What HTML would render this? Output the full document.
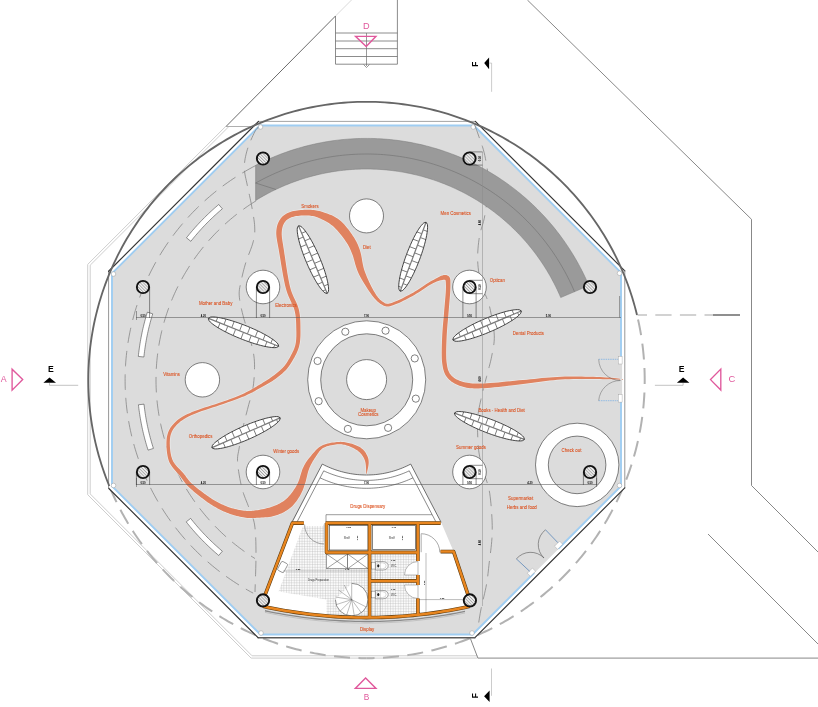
<!DOCTYPE html>
<html><head><meta charset="utf-8"><style>
html,body{margin:0;padding:0;background:#fff;overflow:hidden}
svg{display:block;font-family:"Liberation Sans",sans-serif}
svg{will-change:transform}
</style></head><body>
<svg width="818" height="707" viewBox="0 0 818 707">
<g fill="none" stroke="#c8c8c8" stroke-width="0.9">
<path d="M225.5,126.6 L87.7,264.4 L87.7,494.7 L251.1,658.1 L477.5,658.1"/>
<path d="M228.8,126.6 L90.2,265.2 L90.2,493.9 L252.1,655.8 L477.5,655.8"/>
</g>
<path d="M226,126.5 L335.5,16" stroke="#6b6b6b" stroke-width="1" fill="none"/>
<path d="M335.5,16 L351.5,0" stroke="#d0d0d0" stroke-width="0.8" fill="none"/>
<path d="M226,126.5 L260,126.5" stroke="#9a9a9a" stroke-width="0.8" fill="none"/>
<g stroke="#6e6e6e" stroke-width="0.8" fill="none">
<path d="M335.5,16 V64.2 H397.4 V0"/>
<path d="M335.5,33 H397.4"/>
<path d="M335.5,41 H397.4"/>
<path d="M335.5,48.7 H397.4"/>
<path d="M335.5,56.5 H397.4"/>
<path d="M366.5,33 V66 M363.5,64.5 L366.5,67.5 L369.5,64.5" stroke-width="0.7"/>
</g>
<g stroke="#7a7a7a" stroke-width="0.9" fill="none">
<path d="M527.4,0 L751.5,219.3 L751.5,485.5 L818,552"/>
<path d="M708,534 L818,644"/>
<path d="M470.4,638.5 L477.9,658.1 L818,658.1"/>
</g>
<path d="M366.5,658.2 L363.76,658.19 L361.03,658.15 L358.3,658.08 L355.56,657.98 L352.83,657.86 L350.1,657.72 L347.37,657.54 L344.64,657.34 L341.91,657.11 L339.19,656.86 L336.47,656.57 L333.75,656.27 L331.04,655.93 L328.33,655.57 L325.62,655.18 L322.91,654.76 L320.21,654.32 L317.52,653.85 L314.83,653.36 L312.14,652.84 L309.46,652.29 L306.79,651.72 L304.12,651.12 L301.46,650.49 L298.8,649.84 L296.15,649.16 L293.51,648.45 L290.87,647.72 L288.24,646.97 L285.62,646.18 L283.01,645.38 L280.4,644.54 L277.81,643.68 L275.22,642.8 L272.64,641.89 L270.07,640.95 L267.51,639.99 L264.96,639.01 L262.42,638 L259.88,636.96 L257.36,635.9 L254.85,634.81 L252.35,633.7 L249.86,632.57 L247.38,631.41 L244.92,630.23 L242.46,629.02 L240.02,627.79 L237.59,626.53 L235.17,625.25 L232.77,623.95 L230.38,622.62 L228,621.27 L225.63,619.9 L223.28,618.5 L220.94,617.08 L218.62,615.64 L216.31,614.17 L214.01,612.69 L211.73,611.18 L209.47,609.64 L207.22,608.09 L204.98,606.51 L202.76,604.91 L200.56,603.29 L198.37,601.65 L196.2,599.98 L194.05,598.3 L191.91,596.59 L189.79,594.87 L187.68,593.12 L185.6,591.35 L183.53,589.56 L181.47,587.75 L179.44,585.92 L177.43,584.07 L175.43,582.2 L173.45,580.32 L171.49,578.41 L169.55,576.48 L167.62,574.54 L165.72,572.57 L163.84,570.59 L161.97,568.58 L160.13,566.56 L158.31,564.53 L156.5,562.47 L154.72,560.4 L152.95,558.31 L151.21,556.2 L149.49,554.07 L147.79,551.93 L146.11,549.77 L144.45,547.6 L142.81,545.41 L141.2,543.2 L139.6,540.97 L138.03,538.74 L136.48,536.48 L134.95,534.21 L133.45,531.93 L131.97,529.63 L130.51,527.32 L129.07,524.99 L127.66,522.65 L126.26,520.29 L124.9,517.92 L123.55,515.54 L122.23,513.15 L120.93,510.74 L119.66,508.32 L118.41,505.88 L117.18,503.44 L115.98,500.98 L114.81,498.51 L113.65,496.03 L112.52,493.54 L111.42,491.04 L110.34,488.52 L109.29,486" fill="none" stroke="#b2b2b2" stroke-width="2" stroke-dasharray="16 8.5" stroke-dashoffset="8"/>
<path d="M366.5,658.2 L369.29,658.19 L372.08,658.14 L374.88,658.07 L377.67,657.98 L380.46,657.85 L383.24,657.7 L386.03,657.51 L388.81,657.3 L391.6,657.07 L394.38,656.8 L397.15,656.51 L399.93,656.18 L402.7,655.84 L405.46,655.46 L408.23,655.05 L410.98,654.62 L413.74,654.16 L416.49,653.67 L419.23,653.16 L421.97,652.61 L424.7,652.04 L427.43,651.45 L430.15,650.82 L432.87,650.17 L435.58,649.49 L438.28,648.78 L440.97,648.05 L443.66,647.29 L446.34,646.5 L449.01,645.68 L451.67,644.84 L454.32,643.97 L456.97,643.08 L459.6,642.16 L462.23,641.21 L464.85,640.24 L467.45,639.24 L470.05,638.21 L472.64,637.16 L475.21,636.08 L477.78,634.98 L480.33,633.85 L482.87,632.69 L485.4,631.51 L487.92,630.3 L490.43,629.07 L492.92,627.82 L495.4,626.53 L497.87,625.23 L500.32,623.9 L502.77,622.54 L505.19,621.16 L507.61,619.76 L510.01,618.33 L512.39,616.88 L514.76,615.4 L517.12,613.9 L519.46,612.38 L521.78,610.83 L524.09,609.26 L526.38,607.67 L528.66,606.05 L530.92,604.41 L533.16,602.75 L535.39,601.07 L537.6,599.36 L539.8,597.63 L541.97,595.88 L544.13,594.11 L546.27,592.32 L548.39,590.5 L550.49,588.67 L552.58,586.81 L554.65,584.93 L556.69,583.03 L558.72,581.11 L560.73,579.17 L562.72,577.21 L564.69,575.23 L566.64,573.24 L568.57,571.22 L570.48,569.18 L572.36,567.12 L574.23,565.05 L576.08,562.95 L577.9,560.84 L579.71,558.71 L581.49,556.56 L583.25,554.39 L584.99,552.21 L586.71,550.01 L588.41,547.79 L590.08,545.55 L591.73,543.3 L593.36,541.03 L594.96,538.75 L596.54,536.45 L598.1,534.13 L599.64,531.8 L601.15,529.45 L602.64,527.09 L604.1,524.71 L605.54,522.32 L606.96,519.91 L608.35,517.49 L609.72,515.06 L611.06,512.61 L612.38,510.15 L613.67,507.67 L614.94,505.19 L616.19,502.69 L617.41,500.17 L618.6,497.65 L619.77,495.11 L620.91,492.57 L622.03,490.01 L623.12,487.44 L624.18,484.86 L625.22,482.26 L626.24,479.66 L627.22,477.05 L628.18,474.43 L629.12,471.8 L630.03,469.16 L630.91,466.51 L631.76,463.85 L632.59,461.18 L633.39,458.51 L634.17,455.83 L634.91,453.14 L635.64,450.44 L636.33,447.73 L636.99,445.02 L637.63,442.3 L638.25,439.58 L638.83,436.85 L639.39,434.11 L639.92,431.37 L640.42,428.62 L640.89,425.87 L641.34,423.12 L641.76,420.36 L642.15,417.59 L642.51,414.82 L642.85,412.05 L643.16,409.28 L643.44,406.5 L643.69,403.72 L643.91,400.93 L644.11,398.15 L644.28,395.36 L644.42,392.57 L644.53,389.78 L644.61,386.99 L644.67,384.2 L644.7,381.41 L644.7,378.61 L644.67,375.82 L644.61,373.03 L644.53,370.24 L644.42,367.45 L644.28,364.66 L644.11,361.87 L643.91,359.09 L643.69,356.31 L643.44,353.52 L643.16,350.75 L642.85,347.97 L642.51,345.2 L642.15,342.43 L641.76,339.67 L641.34,336.91 L640.9,334.15 L640.42,331.4 L639.92,328.65 L639.39,325.91 L638.83,323.17 L638.25,320.44 L637.64,317.72 L637,315" fill="none" stroke="#b2b2b2" stroke-width="2" stroke-dasharray="16 8.5" stroke-dashoffset="8"/>
<path d="M637.5,315 L713,315" stroke="#c4c4c4" stroke-width="1.6" stroke-dasharray="16.3 8.3" stroke-dashoffset="6.8" fill="none"/>
<path d="M713,315 L740,315" stroke="#6a6a6a" stroke-width="1.5" fill="none"/>
<path d="M258.48,121.4 L475.32,121.4 L624.8,270.88 L624.8,487.82 L474.92,637.7 L258.08,637.7 L108.6,488.22 L108.6,271.28Z" fill="#ffffff" stroke="none"/>
<path d="M258.48,121.4 L475.32,121.4" stroke="#9a9a9a" stroke-width="0.9" stroke-linecap="round"/>
<path d="M475.32,121.4 L624.8,270.88" stroke="#333" stroke-width="1.15" stroke-linecap="round"/>
<path d="M624.8,270.88 L624.8,487.82" stroke="#8a8a8a" stroke-width="0.9" stroke-linecap="round"/>
<path d="M624.8,487.82 L474.92,637.7" stroke="#333" stroke-width="1.15" stroke-linecap="round"/>
<path d="M474.92,637.7 L258.08,637.7" stroke="#5a5a5a" stroke-width="1.4" stroke-linecap="round"/>
<path d="M258.08,637.7 L108.6,488.22" stroke="#333" stroke-width="1.15" stroke-linecap="round"/>
<path d="M108.6,488.22 L108.6,271.28" stroke="#8a8a8a" stroke-width="0.9" stroke-linecap="round"/>
<path d="M108.6,271.28 L258.48,121.4" stroke="#333" stroke-width="1.15" stroke-linecap="round"/>
<path d="M259.9,125.5 L473.9,125.5 L621,272.6 L621,486.1 L472.6,634.5 L260.4,634.5 L112,486.1 L112,273.4Z" fill="#dcdcdc" stroke="#9fcdf2" stroke-width="1.9"/>
<circle cx="260.52" cy="126.98" r="2.3" fill="#fff" stroke="#9a9a9a" stroke-width="0.5"/>
<circle cx="473.28" cy="126.97" r="2.3" fill="#fff" stroke="#9a9a9a" stroke-width="0.5"/>
<circle cx="619.53" cy="273.22" r="2.3" fill="#fff" stroke="#9a9a9a" stroke-width="0.5"/>
<circle cx="619.52" cy="485.48" r="2.3" fill="#fff" stroke="#9a9a9a" stroke-width="0.5"/>
<circle cx="471.98" cy="633.02" r="2.3" fill="#fff" stroke="#9a9a9a" stroke-width="0.5"/>
<circle cx="261.02" cy="633.02" r="2.3" fill="#fff" stroke="#9a9a9a" stroke-width="0.5"/>
<circle cx="113.48" cy="485.48" r="2.3" fill="#fff" stroke="#9a9a9a" stroke-width="0.5"/>
<circle cx="113.48" cy="274.02" r="2.3" fill="#fff" stroke="#9a9a9a" stroke-width="0.5"/>
<path d="M637,315 L635.89,310.55 L634.71,306.12 L633.46,301.71 L632.13,297.32 L630.73,292.95 L629.26,288.61 L627.72,284.29 L626.11,280 L624.42,275.73 L622.67,271.5 L620.84,267.29 L618.95,263.11 L616.99,258.97 L614.96,254.85 L612.87,250.77 L610.7,246.73 L608.47,242.72 L606.18,238.76 L603.82,234.82 L601.39,230.93 L598.9,227.08 L596.35,223.27 L593.74,219.5 L591.06,215.78 L588.32,212.1 L585.52,208.47 L582.67,204.88 L579.75,201.34 L576.78,197.85 L573.75,194.41 L570.66,191.02 L567.52,187.68 L564.32,184.39 L561.07,181.16 L557.77,177.98 L554.41,174.85 L551,171.78 L547.55,168.77 L544.04,165.82 L540.48,162.92 L536.88,160.08 L533.24,157.3 L529.54,154.58 L525.8,151.93 L522.02,149.33 L518.2,146.8 L514.34,144.33 L510.43,141.93 L506.49,139.59 L502.51,137.31 L498.49,135.1 L494.43,132.96 L490.34,130.89 L486.22,128.88 L482.07,126.94 L477.88,125.07 L473.66,123.27 L469.42,121.54 L465.14,119.87 L460.84,118.28 L456.51,116.76 L452.16,115.32 L447.79,113.94 L443.39,112.64 L438.97,111.41 L434.54,110.25 L430.08,109.16 L425.61,108.15 L421.12,107.21 L416.62,106.35 L412.1,105.56 L407.57,104.85 L403.03,104.21 L398.48,103.64 L393.92,103.15 L389.35,102.74 L384.78,102.4 L380.2,102.14 L375.62,101.95 L371.04,101.84 L366.45,101.8 L361.86,101.84 L357.28,101.95 L352.7,102.14 L348.12,102.41 L343.55,102.75 L338.98,103.16 L334.42,103.66 L329.87,104.22 L325.33,104.86 L320.8,105.58 L316.28,106.37 L311.78,107.23 L307.29,108.17 L302.82,109.19 L298.37,110.27 L293.93,111.43 L289.51,112.66 L285.12,113.97 L280.74,115.35 L276.39,116.8 L272.07,118.32 L267.77,119.91 L263.49,121.57 L259.25,123.31 L255.03,125.11 L250.84,126.98 L246.69,128.92 L242.57,130.93 L238.48,133.01 L234.42,135.15 L230.41,137.36 L226.43,139.64 L222.48,141.98 L218.58,144.38 L214.72,146.85 L210.89,149.39 L207.11,151.98 L203.38,154.64 L199.69,157.36 L196.04,160.14 L192.44,162.98 L188.88,165.88 L185.38,168.84 L181.92,171.85 L178.52,174.92 L175.16,178.05 L171.86,181.23 L168.61,184.46 L165.41,187.75 L162.27,191.09 L159.19,194.48 L156.16,197.93 L153.18,201.42 L150.27,204.96 L147.41,208.55 L144.62,212.18 L141.88,215.86 L139.21,219.58 L136.59,223.35 L134.04,227.16 L131.56,231.02 L129.13,234.91 L126.77,238.84 L124.48,242.81 L122.25,246.82 L120.09,250.86 L117.99,254.94 L115.97,259.06 L114.01,263.2 L112.12,267.38 L110.29,271.59 L108.54,275.82 L106.86,280.09 L105.25,284.38 L103.71,288.7 L102.24,293.05 L100.84,297.41 L99.52,301.8 L98.26,306.22 L97.08,310.65 L95.98,315.1 L94.94,319.56 L93.98,324.05 L93.1,328.55 L92.29,333.06 L91.55,337.59 L90.89,342.13 L90.3,346.67 L89.79,351.23 L89.36,355.79 L88.99,360.37 L88.71,364.94 L88.5,369.52 L88.36,374.11 L88.3,378.69 L88.32,383.28 L88.41,387.86 L88.58,392.45 L88.82,397.02 L89.14,401.6 L89.53,406.17 L90,410.73 L90.55,415.28 L91.17,419.83 L91.86,424.36 L92.63,428.88 L93.47,433.39 L94.39,437.88 L95.38,442.36 L96.44,446.82 L97.58,451.26 L98.79,455.68 L100.08,460.08 L101.43,464.47 L102.86,468.82 L104.36,473.16 L105.93,477.46 L107.57,481.75 L109.29,486" fill="none" stroke="#666" stroke-width="1.85"/>
<g fill="none" stroke="#7a7a7a" stroke-width="0.7" stroke-dasharray="15.5 8">
<path d="M255.78,165.49 L252.87,167.01 L249.99,168.58 L247.12,170.18 L244.28,171.83 L241.46,173.51 L238.66,175.23 L235.89,176.99 L233.14,178.78 L230.41,180.61 L227.72,182.48 L225.04,184.39 L222.39,186.33 L219.77,188.31 L217.18,190.32 L214.61,192.37 L212.07,194.46 L209.57,196.57 L207.08,198.72 L204.63,200.91 L202.21,203.13 L199.82,205.38 L197.46,207.66 L195.13,209.98 L192.84,212.32 L190.57,214.7 L188.34,217.11 L186.14,219.55 L183.97,222.02 L181.84,224.51 L179.75,227.04 L177.68,229.6 L175.65,232.18 L173.66,234.79 L171.7,237.42 L169.78,240.09 L167.9,242.78 L166.05,245.49 L164.24,248.23 L162.46,250.99 L160.73,253.78 L159.03,256.59 L157.37,259.42 L155.75,262.28 L154.17,265.16 L152.63,268.06 L151.12,270.97 L149.66,273.91 L148.24,276.87 L146.85,279.85 L145.51,282.85 L144.21,285.86 L142.95,288.9 L141.73,291.95 L140.56,295.01 L139.42,298.09 L138.33,301.19 L137.28,304.3 L136.27,307.42 L135.3,310.56 L134.38,313.71 L133.5,316.88 L132.66,320.05 L131.87,323.24 L131.12,326.44 L130.41,329.64 L129.75,332.86 L129.13,336.08 L128.55,339.32 L128.02,342.56 L127.53,345.8 L127.09,349.06 L126.69,352.32 L126.34,355.58 L126.03,358.85 L125.76,362.12 L125.54,365.4 L125.37,368.68 L125.23,371.96 L125.15,375.24 L125.1,378.53 L125.11,381.81 L125.15,385.09 L125.25,388.37 L125.38,391.66 L125.56,394.93 L125.79,398.21 L126.06,401.48 L126.37,404.75 L126.73,408.02 L127.13,411.27 L127.58,414.53 L128.07,417.77 L128.61,421.01 L129.19,424.25 L129.81,427.47 L130.48,430.68 L131.19,433.89 L131.95,437.09 L132.75,440.27 L133.59,443.44 L134.47,446.61 L135.4,449.76 L136.37,452.89 L137.38,456.02 L138.44,459.13 L139.53,462.22 L140.67,465.3 L141.85,468.37 L143.08,471.41 L144.34,474.44 L145.65,477.46 L146.99,480.45 L148.38,483.43 L149.81,486.39 L151.27,489.32 L152.78,492.24 L154.33,495.14 L155.91,498.01 L157.54,500.87 L159.2,503.7 L160.9,506.51 L162.64,509.29 L164.42,512.05 L166.23,514.79 L168.09,517.5 L169.98,520.19 L171.9,522.85 L173.86,525.48 L175.86,528.09 L177.89,530.67 L179.96,533.22 L182.06,535.74 L184.19,538.24 L186.36,540.7 L188.57,543.14 L190.8,545.54 L193.07,547.92 L195.37,550.26 L197.7,552.57 L200.06,554.85 L202.46,557.1 L204.88,559.31 L207.34,561.5 L209.82,563.64 L212.33,565.76 L214.87,567.84 L217.44,569.88 L220.04,571.89 L222.66,573.87 L225.31,575.81 L227.99,577.71 L230.69,579.57 L233.42,581.4 L236.17,583.19 L238.95,584.95 L241.75,586.66 L244.57,588.34 L247.41,589.98 L250.28,591.58 L253.17,593.14"/>
<path d="M256.2,200.71 L253.93,202.13 L251.68,203.57 L249.45,205.04 L247.24,206.54 L245.05,208.07 L242.88,209.63 L240.72,211.21 L238.59,212.82 L236.48,214.46 L234.39,216.12 L232.32,217.81 L230.27,219.53 L228.24,221.27 L226.24,223.04 L224.25,224.83 L222.3,226.65 L220.36,228.5 L218.45,230.36 L216.56,232.26 L214.7,234.17 L212.86,236.11 L211.04,238.07 L209.25,240.06 L207.49,242.07 L205.75,244.1 L204.04,246.15 L202.35,248.22 L200.69,250.32 L199.06,252.43 L197.45,254.57 L195.87,256.72 L194.32,258.9 L192.8,261.1 L191.3,263.31 L189.83,265.55 L188.4,267.8 L186.99,270.07 L185.6,272.36 L184.25,274.66 L182.93,276.98 L181.64,279.32 L180.37,281.68 L179.14,284.05 L177.94,286.44 L176.76,288.84 L175.62,291.26 L174.51,293.69 L173.43,296.13 L172.38,298.59 L171.36,301.06 L170.38,303.54 L169.42,306.04 L168.5,308.55 L167.61,311.07 L166.75,313.6 L165.92,316.14 L165.13,318.69 L164.36,321.25 L163.63,323.83 L162.94,326.41 L162.27,329 L161.64,331.59 L161.04,334.2 L160.48,336.81 L159.95,339.43 L159.45,342.05 L158.98,344.69 L158.55,347.32 L158.15,349.97 L157.79,352.62 L157.46,355.27 L157.16,357.92 L156.9,360.58 L156.67,363.25 L156.47,365.91 L156.31,368.58 L156.18,371.25 L156.09,373.92 L156.03,376.59 L156,379.27 L156.01,381.94 L156.05,384.61 L156.13,387.28 L156.24,389.95 L156.38,392.62 L156.56,395.29 L156.77,397.95 L157.01,400.61 L157.29,403.27 L157.6,405.93 L157.95,408.58 L158.33,411.22 L158.74,413.86 L159.19,416.5 L159.67,419.13 L160.18,421.75 L160.73,424.37 L161.31,426.98 L161.92,429.58 L162.57,432.17 L163.25,434.76 L163.96,437.33 L164.7,439.9 L165.48,442.46 L166.29,445 L167.13,447.54 L168,450.07 L168.91,452.58 L169.85,455.08 L170.82,457.58 L171.82,460.05 L172.85,462.52 L173.91,464.97 L175.01,467.41 L176.13,469.83 L177.29,472.24 L178.47,474.64 L179.69,477.02 L180.94,479.38 L182.21,481.73 L183.52,484.06 L184.86,486.38 L186.22,488.68 L187.62,490.96 L189.04,493.22 L190.49,495.46 L191.97,497.69 L193.48,499.89 L195.02,502.08 L196.58,504.25 L198.17,506.4 L199.79,508.52 L201.44,510.63 L203.11,512.71 L204.81,514.78 L206.53,516.82 L208.28,518.84 L210.06,520.84 L211.86,522.81 L213.68,524.77 L215.53,526.69 L217.41,528.6 L219.31,530.48 L221.23,532.34 L223.17,534.17 L225.14,535.98 L227.14,537.76 L229.15,539.52 L231.19,541.25 L233.24,542.95 L235.32,544.63 L237.43,546.28 L239.55,547.91 L241.69,549.51 L243.85,551.08 L246.03,552.62 L248.23,554.14 L250.46,555.62 L252.69,557.08 L254.95,558.51"/>
<path d="M258.5,127 L258.23,127.29 L257.9,127.58 L257.51,127.91 L257.06,128.34 L256.56,128.9 L255.99,129.65 L255.37,130.64 L254.7,131.9 L253.92,133.51 L253,135.44 L252,137.63 L250.95,139.99 L249.91,142.46 L248.92,144.95 L248.04,147.39 L247.3,149.7 L246.67,151.92 L246.1,154.15 L245.59,156.38 L245.15,158.6 L244.79,160.82 L244.53,163.05 L244.36,165.27 L244.3,167.5 L244.38,169.7 L244.6,171.88 L244.92,174.04 L245.34,176.21 L245.81,178.41 L246.31,180.64 L246.82,182.93 L247.3,185.3 L247.79,187.76 L248.33,190.29 L248.91,192.88 L249.5,195.51 L250.09,198.17 L250.67,200.83 L251.21,203.48 L251.7,206.1 L252.17,208.74 L252.65,211.44 L253.13,214.16 L253.57,216.87 L253.97,219.53 L254.3,222.11 L254.55,224.58 L254.7,226.9 L254.77,229 L254.78,230.9 L254.73,232.66 L254.6,234.35 L254.39,236.04 L254.1,237.8 L253.7,239.7 L253.2,241.8 L252.54,244.14 L251.7,246.66 L250.73,249.3 L249.69,252.02 L248.62,254.76 L247.58,257.47 L246.63,260.1 L245.8,262.6 L245.08,264.99 L244.41,267.33 L243.79,269.63 L243.22,271.88 L242.68,274.08 L242.19,276.24 L241.73,278.34 L241.3,280.4 L240.88,282.35 L240.47,284.16 L240.08,285.89 L239.73,287.59 L239.45,289.31 L239.25,291.1 L239.16,293.02 L239.2,295.1 L239.37,297.33 L239.65,299.66 L240.03,302.07 L240.49,304.58 L241.04,307.16 L241.64,309.83 L242.3,312.58 L243,315.4 L243.79,318.37 L244.72,321.53 L245.74,324.81 L246.8,328.15 L247.86,331.49 L248.88,334.77 L249.81,337.93 L250.6,340.9 L251.29,343.65 L251.93,346.22 L252.52,348.66 L253.05,351.05 L253.51,353.44 L253.89,355.88 L254.19,358.45 L254.4,361.2 L254.52,364.17 L254.54,367.33 L254.49,370.61 L254.36,373.95 L254.16,377.29 L253.89,380.57 L253.57,383.73 L253.2,386.7 L252.75,389.49 L252.2,392.14 L251.57,394.69 L250.89,397.17 L250.18,399.61 L249.47,402.04 L248.76,404.49 L248.1,407 L247.45,409.55 L246.79,412.09 L246.13,414.64 L245.47,417.19 L244.82,419.75 L244.18,422.3 L243.58,424.85 L243,427.4 L242.45,429.99 L241.91,432.63 L241.38,435.3 L240.88,437.95 L240.41,440.56 L239.96,443.09 L239.56,445.52 L239.2,447.8 L238.85,449.84 L238.51,451.64 L238.18,453.29 L237.89,454.88 L237.67,456.51 L237.53,458.28 L237.5,460.28 L237.6,462.6 L237.84,465.31 L238.19,468.36 L238.66,471.63 L239.21,475.04 L239.82,478.48 L240.49,481.88 L241.19,485.11 L241.9,488.1 L242.66,490.87 L243.51,493.52 L244.42,496.07 L245.37,498.53 L246.32,500.93 L247.26,503.28 L248.17,505.6 L249,507.9 L249.8,510.08 L250.6,512.08 L251.39,513.98 L252.16,515.87 L252.87,517.82 L253.53,519.92 L254.11,522.25 L254.6,524.9 L254.99,527.82 L255.3,530.93 L255.54,534.22 L255.71,537.69 L255.84,541.32 L255.92,545.12 L255.97,549.08 L256,553.2 L255.98,557.81 L255.9,563.07 L255.76,568.69 L255.59,574.37 L255.41,579.83 L255.24,584.78 L255.09,588.93 L255,592"/>
<path d="M474.1,123.5 L474.38,124.24 L474.73,125.13 L475.15,126.19 L475.63,127.41 L476.15,128.8 L476.73,130.36 L477.35,132.09 L478,134 L478.73,136.11 L479.57,138.42 L480.48,140.93 L481.43,143.59 L482.36,146.4 L483.26,149.32 L484.09,152.33 L484.8,155.4 L485.44,158.57 L486.07,161.89 L486.66,165.31 L487.19,168.84 L487.65,172.46 L487.99,176.13 L488.22,179.85 L488.3,183.6 L488.21,187.48 L487.96,191.57 L487.58,195.76 L487.11,199.99 L486.56,204.16 L485.97,208.19 L485.38,212 L484.8,215.5 L484.19,218.64 L483.5,221.47 L482.75,224.08 L481.99,226.55 L481.24,228.96 L480.53,231.4 L479.91,233.96 L479.4,236.7 L478.97,239.63 L478.59,242.65 L478.26,245.75 L477.99,248.9 L477.79,252.06 L477.67,255.22 L477.64,258.34 L477.7,261.4 L477.88,264.48 L478.16,267.64 L478.55,270.81 L479.01,273.96 L479.52,277 L480.07,279.9 L480.64,282.58 L481.2,285 L481.8,287.1 L482.45,288.92 L483.16,290.52 L483.88,291.98 L484.61,293.34 L485.32,294.69 L485.99,296.09 L486.6,297.6 L487.15,299.1 L487.66,300.49 L488.14,301.83 L488.59,303.2 L489.04,304.67 L489.48,306.31 L489.93,308.2 L490.4,310.4 L490.93,313.01 L491.52,315.98 L492.14,319.22 L492.75,322.62 L493.31,326.09 L493.78,329.51 L494.12,332.78 L494.3,335.8 L494.3,338.59 L494.17,341.25 L493.91,343.82 L493.56,346.32 L493.14,348.78 L492.68,351.22 L492.19,353.69 L491.7,356.2 L491.18,358.74 L490.6,361.28 L489.97,363.82 L489.31,366.35 L488.62,368.88 L487.93,371.42 L487.25,373.96 L486.6,376.5 L485.95,379.05 L485.29,381.6 L484.63,384.15 L483.97,386.7 L483.32,389.25 L482.68,391.8 L482.08,394.35 L481.5,396.9 L480.94,399.46 L480.37,402.04 L479.81,404.63 L479.28,407.21 L478.79,409.77 L478.35,412.3 L477.98,414.78 L477.7,417.2 L477.51,419.54 L477.4,421.83 L477.36,424.06 L477.38,426.26 L477.44,428.43 L477.52,430.61 L477.61,432.79 L477.7,435 L477.78,437.23 L477.87,439.46 L477.97,441.7 L478.1,443.94 L478.26,446.17 L478.45,448.39 L478.7,450.6 L479,452.8 L479.36,454.96 L479.76,457.07 L480.21,459.16 L480.69,461.24 L481.22,463.35 L481.78,465.5 L482.38,467.71 L483,470 L483.69,472.34 L484.48,474.7 L485.32,477.1 L486.18,479.54 L487.03,482.07 L487.84,484.69 L488.58,487.43 L489.2,490.3 L489.72,493.38 L490.18,496.69 L490.59,500.14 L490.94,503.68 L491.24,507.22 L491.5,510.7 L491.72,514.05 L491.9,517.2 L492.05,520.13 L492.15,522.89 L492.22,525.54 L492.24,528.12 L492.22,530.68 L492.15,533.26 L492.05,535.92 L491.9,538.7 L491.69,541.61 L491.41,544.62 L491.09,547.7 L490.72,550.8 L490.33,553.9 L489.94,556.98 L489.56,559.99 L489.2,562.9 L488.88,565.7 L488.59,568.4 L488.31,571.04 L488.02,573.65 L487.71,576.26 L487.36,578.9 L486.97,581.6 L486.5,584.4 L485.94,587.35 L485.28,590.45 L484.55,593.63 L483.8,596.84 L483.05,600 L482.32,603.06 L481.66,605.94 L481.1,608.6 L480.61,611.11 L480.17,613.57 L479.77,615.94 L479.41,618.16 L479.1,620.2 L478.82,622 L478.59,623.51 L478.4,624.7"/>
</g>
<path d="M588.89,285.6 L587.58,282.56 L586.22,279.53 L584.82,276.53 L583.38,273.54 L581.9,270.58 L580.38,267.63 L578.82,264.71 L577.22,261.81 L575.57,258.93 L573.89,256.07 L572.17,253.24 L570.42,250.43 L568.62,247.64 L566.78,244.88 L564.91,242.15 L563,239.44 L561.06,236.76 L559.07,234.1 L557.05,231.47 L555,228.87 L552.91,226.3 L550.78,223.76 L548.62,221.25 L546.42,218.76 L544.2,216.31 L541.93,213.89 L539.64,211.5 L537.31,209.14 L534.95,206.81 L532.56,204.51 L530.14,202.25 L527.68,200.02 L525.2,197.83 L522.68,195.67 L520.14,193.55 L517.57,191.46 L514.97,189.4 L512.34,187.38 L509.68,185.4 L507,183.45 L504.29,181.54 L501.55,179.67 L498.79,177.84 L496.01,176.04 L493.2,174.29 L490.36,172.57 L487.51,170.89 L484.63,169.25 L481.72,167.65 L478.8,166.09 L475.85,164.57 L472.89,163.09 L469.9,161.65 L466.9,160.25 L463.87,158.89 L460.83,157.58 L457.77,156.3 L454.69,155.07 L451.6,153.88 L448.49,152.74 L445.36,151.63 L442.22,150.57 L439.07,149.56 L435.9,148.58 L432.72,147.65 L429.53,146.77 L426.32,145.92 L423.1,145.12 L419.88,144.37 L416.64,143.66 L413.39,142.99 L410.14,142.37 L406.87,141.8 L403.6,141.27 L400.32,140.78 L397.04,140.34 L393.75,139.94 L390.45,139.59 L387.15,139.28 L383.85,139.02 L380.54,138.81 L377.23,138.64 L373.92,138.51 L370.6,138.43 L367.29,138.4 L363.97,138.41 L360.66,138.47 L357.35,138.57 L354.04,138.72 L350.73,138.92 L347.42,139.15 L344.12,139.44 L340.82,139.77 L337.53,140.14 L334.24,140.56 L330.96,141.03 L327.68,141.54 L324.42,142.09 L321.16,142.69 L317.91,143.34 L314.66,144.03 L311.43,144.76 L308.21,145.54 L305,146.36 L301.8,147.22 L298.61,148.13 L295.44,149.09 L292.28,150.08 L289.13,151.12 L286,152.21 L282.88,153.33 L279.78,154.5 L276.69,155.71 L273.62,156.97 L270.57,158.26 L267.54,159.6 L264.53,160.98 L261.53,162.4 L258.56,163.86 L255.6,165.36 L255.6,200.49 L255.6,200.49 L258.19,198.92 L260.8,197.38 L263.43,195.89 L266.09,194.43 L268.76,193 L271.45,191.62 L274.17,190.27 L276.9,188.97 L279.65,187.7 L282.42,186.47 L285.21,185.29 L288.01,184.14 L290.83,183.03 L293.67,181.97 L296.52,180.94 L299.38,179.96 L302.26,179.02 L305.16,178.11 L308.06,177.25 L310.98,176.44 L313.9,175.66 L316.84,174.93 L319.79,174.23 L322.75,173.59 L325.72,172.98 L328.7,172.41 L331.68,171.89 L334.67,171.41 L337.67,170.98 L340.67,170.59 L343.68,170.24 L346.69,169.93 L349.71,169.67 L352.73,169.45 L355.76,169.27 L358.78,169.14 L361.81,169.05 L364.84,169.01 L367.87,169 L370.9,169.05 L373.93,169.13 L376.95,169.26 L379.98,169.43 L383,169.65 L386.02,169.9 L389.03,170.21 L392.04,170.55 L395.05,170.94 L398.04,171.37 L401.04,171.85 L404.02,172.36 L407,172.92 L409.97,173.53 L412.93,174.17 L415.88,174.86 L418.82,175.59 L421.74,176.36 L424.66,177.17 L427.57,178.03 L430.46,178.93 L433.34,179.87 L436.21,180.85 L439.06,181.87 L441.9,182.93 L444.72,184.03 L447.52,185.18 L450.31,186.36 L453.08,187.58 L455.84,188.85 L458.57,190.15 L461.29,191.49 L463.98,192.87 L466.66,194.29 L469.32,195.74 L471.95,197.24 L474.56,198.77 L477.15,200.34 L479.72,201.95 L482.27,203.59 L484.79,205.27 L487.28,206.99 L489.75,208.74 L492.2,210.53 L494.62,212.35 L497.01,214.21 L499.38,216.1 L501.72,218.02 L504.03,219.98 L506.31,221.97 L508.57,223.99 L510.79,226.05 L512.99,228.14 L515.15,230.26 L517.29,232.41 L519.39,234.59 L521.46,236.8 L523.5,239.04 L525.51,241.3 L527.49,243.6 L529.43,245.93 L531.33,248.28 L533.21,250.66 L535.05,253.07 L536.85,255.5 L538.62,257.96 L540.36,260.44 L542.06,262.95 L543.72,265.48 L545.34,268.04 L546.93,270.62 L548.48,273.22 L550,275.84 L551.48,278.49 L552.91,281.15 L554.31,283.84 L555.67,286.54 L557,289.27 L558.28,292.01 L559.52,294.78 L560.73,297.56Z" fill="#9a9a9a" stroke="#7a7a7a" stroke-width="0.5"/>
<path d="M574.53,291.69 L573.28,288.79 L571.98,285.9 L570.64,283.03 L569.26,280.17 L567.84,277.34 L566.38,274.53 L564.88,271.74 L563.34,268.97 L561.77,266.22 L560.15,263.49 L558.5,260.79 L556.81,258.11 L555.08,255.45 L553.32,252.82 L551.52,250.22 L549.68,247.63 L547.81,245.08 L545.9,242.55 L543.95,240.05 L541.97,237.58 L539.96,235.13 L537.91,232.71 L535.83,230.32 L533.72,227.97 L531.57,225.64 L529.39,223.34 L527.18,221.07 L524.93,218.83 L522.66,216.63 L520.35,214.45 L518.02,212.31 L515.65,210.21 L513.26,208.13 L510.83,206.09 L508.38,204.09 L505.9,202.11 L503.39,200.18 L500.86,198.28 L498.3,196.41 L495.71,194.58 L493.1,192.79 L490.46,191.03 L487.8,189.31 L485.12,187.63 L482.41,185.99 L479.68,184.38 L476.92,182.81 L474.15,181.28 L471.35,179.79 L468.53,178.34 L465.7,176.93 L462.84,175.56 L459.97,174.23 L457.07,172.94 L454.16,171.69 L451.23,170.49 L448.29,169.32 L445.32,168.19 L442.35,167.11 L439.36,166.07 L436.35,165.07 L433.33,164.11 L430.3,163.19 L427.25,162.32 L424.19,161.49 L421.12,160.7 L418.05,159.96 L414.96,159.26 L411.86,158.6 L408.75,157.98 L405.63,157.41 L402.51,156.89 L399.38,156.4 L396.24,155.97 L393.09,155.57 L389.95,155.22 L386.79,154.91 L383.64,154.65 L380.47,154.43 L377.31,154.26 L374.15,154.13 L370.98,154.04 L367.81,154 L364.64,154.01 L361.47,154.06 L358.31,154.15 L355.14,154.29 L351.98,154.47 L348.82,154.69 L345.66,154.96 L342.51,155.28 L339.36,155.64 L336.22,156.04 L333.08,156.48 L329.95,156.97 L326.83,157.51 L323.71,158.09 L320.61,158.71 L317.51,159.37 L314.42,160.08 L311.34,160.83 L308.28,161.63 L305.22,162.47 L302.18,163.35 L299.15,164.27 L296.13,165.23 L293.13,166.24 L290.14,167.29 L287.16,168.38 L284.2,169.52 L281.26,170.69 L278.34,171.91 L275.43,173.16 L272.54,174.46 L269.66,175.8 L266.81,177.17 L263.98,178.59 L261.16,180.05 L258.37,181.55 L255.6,183.08" fill="none" stroke="#6f6f6f" stroke-width="0.6"/>
<path d="M255.6,183 L276,189.5" fill="none" stroke="#6f6f6f" stroke-width="0.6"/>
<path d="M218.74,204.53 L217.26,205.78 L215.8,207.04 L214.35,208.32 L212.9,209.61 L211.47,210.91 L210.05,212.23 L208.64,213.55 L207.24,214.89 L205.85,216.24 L204.48,217.6 L203.11,218.97 L201.76,220.36 L200.42,221.75 L199.09,223.16 L197.77,224.58 L196.47,226.01 L195.18,227.45 L193.9,228.9 L192.63,230.36 L191.37,231.83 L190.13,233.31 L188.9,234.81 L187.68,236.31 L186.47,237.82 L190.87,241.29 L192.04,239.82 L193.23,238.35 L194.43,236.89 L195.65,235.45 L196.87,234.01 L198.11,232.59 L199.36,231.17 L200.62,229.77 L201.89,228.37 L203.18,226.99 L204.48,225.62 L205.78,224.25 L207.1,222.9 L208.43,221.57 L209.78,220.24 L211.13,218.92 L212.49,217.62 L213.87,216.32 L215.25,215.04 L216.65,213.77 L218.06,212.51 L219.48,211.27 L220.91,210.03 L222.35,208.81Z" fill="#fff" stroke="#4a4a4a" stroke-width="0.6" stroke-linejoin="round"/>
<path d="M147.36,312.16 L146.81,313.97 L146.27,315.78 L145.75,317.59 L145.25,319.4 L144.76,321.22 L144.28,323.05 L143.82,324.88 L143.38,326.71 L142.95,328.54 L142.53,330.38 L142.13,332.22 L141.75,334.07 L141.38,335.92 L141.02,337.77 L140.68,339.62 L140.36,341.48 L140.05,343.34 L139.75,345.2 L139.48,347.07 L139.21,348.93 L138.97,350.8 L138.73,352.67 L138.52,354.55 L138.32,356.42 L143.89,357 L144.08,355.17 L144.29,353.34 L144.52,351.51 L144.76,349.69 L145.02,347.87 L145.29,346.05 L145.58,344.23 L145.88,342.42 L146.19,340.61 L146.53,338.8 L146.87,336.99 L147.23,335.19 L147.61,333.39 L148,331.59 L148.4,329.8 L148.82,328.01 L149.26,326.22 L149.71,324.44 L150.17,322.66 L150.65,320.88 L151.14,319.11 L151.65,317.34 L152.17,315.58 L152.71,313.82Z" fill="#fff" stroke="#4a4a4a" stroke-width="0.6" stroke-linejoin="round"/>
<path d="M138.44,404.78 L138.66,406.7 L138.89,408.62 L139.14,410.54 L139.41,412.45 L139.69,414.37 L139.99,416.28 L140.3,418.19 L140.63,420.1 L140.98,422 L141.34,423.9 L141.72,425.8 L142.11,427.69 L142.52,429.59 L142.95,431.47 L143.39,433.36 L143.85,435.24 L144.32,437.11 L144.81,438.99 L145.32,440.85 L145.84,442.72 L146.38,444.58 L146.93,446.43 L147.5,448.28 L148.08,450.13 L153.41,448.41 L152.84,446.61 L152.29,444.81 L151.75,443 L151.23,441.19 L150.72,439.37 L150.23,437.55 L149.75,435.72 L149.28,433.89 L148.84,432.06 L148.41,430.22 L147.99,428.38 L147.59,426.53 L147.21,424.68 L146.84,422.83 L146.48,420.98 L146.15,419.12 L145.82,417.26 L145.52,415.4 L145.23,413.53 L144.95,411.66 L144.69,409.79 L144.45,407.92 L144.22,406.05 L144.01,404.17Z" fill="#fff" stroke="#4a4a4a" stroke-width="0.6" stroke-linejoin="round"/>
<path d="M186.22,521.86 L187.44,523.39 L188.66,524.91 L189.9,526.42 L191.16,527.92 L192.42,529.4 L193.7,530.88 L194.99,532.34 L196.29,533.8 L197.61,535.24 L198.93,536.67 L200.27,538.09 L201.62,539.5 L202.99,540.9 L204.36,542.28 L205.75,543.65 L207.15,545.02 L208.56,546.37 L209.98,547.7 L211.41,549.03 L212.85,550.34 L214.31,551.64 L215.77,552.93 L217.25,554.21 L218.74,555.47 L222.35,551.19 L220.89,549.96 L219.45,548.71 L218.02,547.45 L216.6,546.19 L215.19,544.9 L213.8,543.61 L212.41,542.31 L211.04,540.99 L209.67,539.66 L208.32,538.32 L206.98,536.97 L205.65,535.6 L204.33,534.23 L203.02,532.85 L201.73,531.45 L200.45,530.04 L199.18,528.62 L197.92,527.19 L196.67,525.75 L195.44,524.3 L194.21,522.84 L193.01,521.37 L191.81,519.89 L190.63,518.4Z" fill="#fff" stroke="#4a4a4a" stroke-width="0.6" stroke-linejoin="round"/>
<g fill="#fff" stroke="#4a4a4a" stroke-width="0.7">
<circle cx="366.5" cy="215.9" r="17"/>
<circle cx="202.4" cy="379.8" r="17.2"/>
<circle cx="263" cy="287" r="16.8"/>
<circle cx="469.5" cy="287" r="16.8"/>
<circle cx="263" cy="472" r="16.8"/>
<circle cx="469.5" cy="472" r="16.8"/>
</g>
<g stroke="#4a4a4a" stroke-width="0.7">
<circle cx="366.7" cy="379.8" r="59" fill="#fff"/>
<circle cx="366.7" cy="379.8" r="46" fill="#dcdcdc"/>
<circle cx="366.6" cy="379.6" r="20" fill="#fff"/>
<circle cx="415.81" cy="398.65" r="3.6" fill="#fff"/>
<circle cx="388.09" cy="427.85" r="3.6" fill="#fff"/>
<circle cx="347.85" cy="428.91" r="3.6" fill="#fff"/>
<circle cx="318.65" cy="401.19" r="3.6" fill="#fff"/>
<circle cx="317.59" cy="360.95" r="3.6" fill="#fff"/>
<circle cx="345.31" cy="331.75" r="3.6" fill="#fff"/>
<circle cx="385.55" cy="330.69" r="3.6" fill="#fff"/>
<circle cx="414.75" cy="358.41" r="3.6" fill="#fff"/>
</g>
<g stroke="#4a4a4a" stroke-width="0.7">
<circle cx="577.2" cy="464.9" r="41.7" fill="#fff"/>
<circle cx="577.1" cy="464.9" r="28.8" fill="#dcdcdc"/>
</g>
<path d="M623.03,379 L621.73,378.88 L620.16,378.72 L618.33,378.52 L616.27,378.31 L613.98,378.08 L611.5,377.84 L608.84,377.62 L606.03,377.42 L603.08,377.24 L600.02,377.1 L596.77,376.98 L593.23,376.87 L589.46,376.75 L585.52,376.65 L581.45,376.58 L577.3,376.52 L573.12,376.5 L568.97,376.52 L564.89,376.58 L560.93,376.7 L557.06,376.88 L553.22,377.13 L549.4,377.42 L545.6,377.76 L541.8,378.12 L538.01,378.51 L534.23,378.9 L530.43,379.29 L526.62,379.66 L522.79,380.01 L518.84,380.37 L514.74,380.76 L510.55,381.17 L506.34,381.59 L502.16,382 L498.08,382.39 L494.15,382.73 L490.43,383.03 L487,383.25 L483.89,383.4 L481.1,383.49 L478.59,383.54 L476.32,383.55 L474.27,383.52 L472.39,383.44 L470.65,383.31 L469,383.12 L467.41,382.87 L465.82,382.56 L464.21,382.18 L462.59,381.73 L461.02,381.23 L459.51,380.67 L458.06,380.06 L456.69,379.4 L455.39,378.68 L454.19,377.91 L453.08,377.09 L452.08,376.23 L451.18,375.31 L450.39,374.35 L449.71,373.38 L449.13,372.37 L448.63,371.3 L448.19,370.15 L447.8,368.89 L447.46,367.5 L447.16,365.97 L446.89,364.28 L446.63,362.43 L446.43,360.42 L446.29,358.2 L446.21,355.8 L446.19,353.25 L446.21,350.61 L446.26,347.89 L446.34,345.15 L446.44,342.41 L446.54,339.71 L446.65,337.1 L446.77,334.55 L446.92,332.01 L447.1,329.46 L447.31,326.9 L447.53,324.34 L447.76,321.78 L447.99,319.2 L448.22,316.63 L448.44,314.05 L448.64,311.48 L448.85,308.84 L449.08,306.09 L449.32,303.26 L449.57,300.41 L449.81,297.59 L450.02,294.85 L450.21,292.24 L450.35,289.81 L450.43,287.6 L450.45,285.68 L450.44,284.07 L450.45,282.68 L450.44,281.42 L450.39,280.28 L450.25,279.18 L449.95,278.08 L449.38,277.01 L448.5,276.07 L447.44,275.43 L446.26,275.06 L444.98,274.95 L443.68,275.08 L442.39,275.4 L441.09,275.87 L439.75,276.46 L438.36,277.15 L436.92,277.91 L435.4,278.75 L433.82,279.63 L432.15,280.56 L430.34,281.6 L428.39,282.8 L426.33,284.12 L424.17,285.53 L421.96,286.99 L419.71,288.46 L417.46,289.91 L415.23,291.32 L413.05,292.63 L410.95,293.82 L408.83,294.96 L406.63,296.12 L404.4,297.27 L402.17,298.39 L399.96,299.46 L397.83,300.45 L395.79,301.34 L393.88,302.11 L392.16,302.74 L390.64,303.2 L389.35,303.51 L388.28,303.69 L387.41,303.75 L386.7,303.72 L386.1,303.61 L385.54,303.42 L384.96,303.15 L384.32,302.78 L383.6,302.31 L382.78,301.78 L381.95,301.21 L381.16,300.6 L380.38,299.93 L379.6,299.18 L378.81,298.34 L378.02,297.4 L377.2,296.35 L376.36,295.16 L375.49,293.83 L374.59,292.35 L373.62,290.67 L372.58,288.76 L371.49,286.67 L370.38,284.45 L369.26,282.13 L368.17,279.78 L367.13,277.41 L366.15,275.09 L365.27,272.86 L364.51,270.78 L363.89,268.8 L363.37,266.81 L362.93,264.78 L362.54,262.73 L362.18,260.68 L361.83,258.62 L361.47,256.57 L361.06,254.53 L360.58,252.52 L360.01,250.59 L359.42,248.85 L358.86,247.27 L358.27,245.77 L357.67,244.33 L357.02,242.92 L356.33,241.54 L355.58,240.16 L354.77,238.77 L353.89,237.35 L352.93,235.88 L351.88,234.34 L350.76,232.72 L349.55,231.05 L348.27,229.35 L346.94,227.65 L345.54,225.97 L344.1,224.34 L342.61,222.77 L341.07,221.3 L339.5,219.96 L337.88,218.75 L336.21,217.67 L334.52,216.71 L332.82,215.85 L331.14,215.09 L329.47,214.41 L327.84,213.79 L326.26,213.24 L324.73,212.72 L323.27,212.24 L321.84,211.78 L320.46,211.37 L319.11,211.02 L317.77,210.71 L316.44,210.45 L315.1,210.24 L313.75,210.08 L312.37,209.95 L310.94,209.86 L309.45,209.8 L307.86,209.78 L306.17,209.78 L304.41,209.82 L302.61,209.9 L300.79,210.02 L298.97,210.18 L297.19,210.39 L295.46,210.65 L293.81,210.97 L292.28,211.34 L290.88,211.77 L289.54,212.24 L288.26,212.75 L287.03,213.33 L285.84,213.97 L284.72,214.68 L283.65,215.47 L282.64,216.33 L281.7,217.28 L280.83,218.3 L280.05,219.38 L279.33,220.52 L278.68,221.71 L278.11,222.97 L277.6,224.29 L277.17,225.68 L276.82,227.13 L276.55,228.64 L276.36,230.22 L276.25,231.87 L276.23,233.55 L276.31,235.22 L276.47,236.89 L276.7,238.6 L276.99,240.36 L277.33,242.23 L277.71,244.22 L278.12,246.39 L278.57,248.77 L279.03,251.4 L279.53,254.41 L280.09,257.83 L280.7,261.56 L281.35,265.52 L282.03,269.58 L282.75,273.68 L283.49,277.69 L284.25,281.54 L285.03,285.13 L285.82,288.37 L286.68,291.3 L287.62,293.99 L288.62,296.46 L289.64,298.76 L290.65,300.9 L291.61,302.92 L292.51,304.86 L293.32,306.75 L294.01,308.62 L294.57,310.54 L295.01,312.54 L295.37,314.55 L295.65,316.57 L295.86,318.58 L296.01,320.58 L296.11,322.55 L296.18,324.5 L296.22,326.4 L296.26,328.25 L296.3,330.03 L296.34,331.73 L296.36,333.35 L296.35,334.91 L296.33,336.4 L296.27,337.84 L296.18,339.24 L296.06,340.59 L295.9,341.91 L295.7,343.2 L295.45,344.47 L295.15,345.69 L294.81,346.86 L294.43,347.99 L294.01,349.1 L293.55,350.18 L293.05,351.27 L292.52,352.36 L291.96,353.46 L291.36,354.59 L290.74,355.75 L290.1,356.93 L289.45,358.13 L288.77,359.33 L288.07,360.53 L287.35,361.72 L286.59,362.89 L285.8,364.05 L284.97,365.17 L284.1,366.27 L283.19,367.32 L282.22,368.35 L281.19,369.36 L280.09,370.36 L278.95,371.34 L277.76,372.31 L276.55,373.27 L275.31,374.21 L274.07,375.14 L272.83,376.05 L271.6,376.95 L270.39,377.82 L269.19,378.65 L267.98,379.47 L266.76,380.27 L265.53,381.05 L264.27,381.84 L262.99,382.62 L261.69,383.4 L260.36,384.2 L259,385.01 L257.63,385.84 L256.27,386.66 L254.9,387.48 L253.53,388.3 L252.13,389.12 L250.7,389.94 L249.22,390.75 L247.7,391.56 L246.11,392.37 L244.44,393.17 L242.73,393.96 L241.03,394.72 L239.29,395.47 L237.51,396.21 L235.67,396.96 L233.73,397.73 L231.67,398.51 L229.48,399.34 L227.14,400.2 L224.62,401.12 L221.81,402.09 L218.68,403.12 L215.31,404.21 L211.77,405.32 L208.16,406.46 L204.57,407.61 L201.07,408.76 L197.75,409.9 L194.69,411.02 L191.99,412.1 L189.61,413.14 L187.45,414.12 L185.46,415.09 L183.63,416.04 L181.94,417 L180.37,417.98 L178.89,419 L177.5,420.07 L176.18,421.2 L174.9,422.41 L173.69,423.65 L172.56,424.91 L171.52,426.2 L170.56,427.54 L169.7,428.95 L168.93,430.42 L168.26,431.98 L167.69,433.63 L167.23,435.39 L166.87,437.26 L166.61,439.29 L166.46,441.51 L166.41,443.87 L166.45,446.33 L166.59,448.84 L166.83,451.35 L167.16,453.83 L167.59,456.23 L168.12,458.51 L168.76,460.64 L169.59,462.65 L170.6,464.55 L171.76,466.33 L173.01,468.01 L174.31,469.59 L175.63,471.08 L176.91,472.49 L178.12,473.82 L179.22,475.07 L180.18,476.27 L181.04,477.43 L181.84,478.53 L182.59,479.56 L183.31,480.56 L184.01,481.52 L184.74,482.48 L185.49,483.43 L186.31,484.4 L187.19,485.4 L188.17,486.43 L189.23,487.48 L190.34,488.53 L191.5,489.58 L192.7,490.62 L193.92,491.67 L195.17,492.7 L196.43,493.72 L197.69,494.73 L198.95,495.72 L200.19,496.69 L201.42,497.65 L202.67,498.61 L203.92,499.56 L205.19,500.51 L206.47,501.46 L207.78,502.39 L209.11,503.31 L210.46,504.21 L211.85,505.09 L213.26,505.94 L214.68,506.77 L216.13,507.59 L217.61,508.39 L219.1,509.18 L220.62,509.94 L222.16,510.68 L223.7,511.4 L225.27,512.08 L226.84,512.72 L228.41,513.33 L230.02,513.91 L231.67,514.45 L233.34,514.97 L235.02,515.45 L236.69,515.9 L238.35,516.31 L239.98,516.69 L241.57,517.03 L243.09,517.32 L244.55,517.57 L245.91,517.77 L247.17,517.92 L248.37,518.02 L249.52,518.08 L250.64,518.09 L251.76,518.08 L252.9,518.04 L254.07,517.98 L255.32,517.91 L256.68,517.83 L258.18,517.75 L259.82,517.68 L261.56,517.59 L263.39,517.48 L265.27,517.35 L267.19,517.17 L269.11,516.94 L271.03,516.65 L272.9,516.29 L274.7,515.84 L276.4,515.32 L278.04,514.75 L279.65,514.12 L281.23,513.43 L282.77,512.69 L284.26,511.91 L285.71,511.07 L287.11,510.19 L288.46,509.26 L289.77,508.29 L291.04,507.24 L292.24,506.13 L293.36,504.98 L294.4,503.81 L295.37,502.61 L296.28,501.42 L297.13,500.22 L297.93,499.03 L298.69,497.85 L299.42,496.68 L300.13,495.49 L300.79,494.28 L301.41,493.08 L301.98,491.87 L302.51,490.65 L303,489.42 L303.48,488.17 L303.94,486.91 L304.4,485.61 L304.87,484.24 L305.35,482.76 L305.78,481.2 L306.18,479.62 L306.56,478.04 L306.92,476.48 L307.29,474.94 L307.65,473.45 L308.03,472.03 L308.43,470.71 L308.86,469.47 L309.33,468.27 L309.83,467.1 L310.35,465.95 L310.89,464.84 L311.45,463.75 L312.04,462.67 L312.66,461.59 L313.3,460.52 L313.98,459.45 L314.7,458.35 L315.45,457.2 L316.2,456.04 L316.94,454.88 L317.7,453.74 L318.48,452.63 L319.28,451.58 L320.13,450.58 L321.02,449.67 L321.97,448.84 L323,448.11 L324.14,447.47 L325.42,446.89 L326.81,446.37 L328.29,445.92 L329.81,445.52 L331.35,445.19 L332.88,444.91 L334.37,444.67 L335.79,444.49 L337.11,444.34 L338.32,444.25 L339.46,444.22 L340.54,444.25 L341.58,444.33 L342.59,444.45 L343.58,444.63 L344.57,444.84 L345.56,445.09 L346.58,445.38 L347.62,445.7 L348.69,446.06 L349.78,446.48 L350.89,446.95 L352.01,447.46 L353.11,448 L354.18,448.57 L355.2,449.14 L356.16,449.72 L357.04,450.29 L357.82,450.84 L358.52,451.38 L359.17,451.93 L359.76,452.49 L360.32,453.06 L360.85,453.65 L361.34,454.25 L361.81,454.87 L362.25,455.49 L362.68,456.12 L363.08,456.75 L363.45,457.36 L363.78,457.94 L364.07,458.5 L364.32,459.06 L364.56,459.64 L364.77,460.23 L364.97,460.87 L365.16,461.56 L365.34,462.31 L365.5,463.11 L365.65,464.02 L365.78,465.1 L365.88,466.31 L365.96,467.58 L366.02,468.88 L366.07,470.15 L366.11,471.34 L366.14,472.4 L366.17,473.3 L366.2,473.98 L366.6,474.02 L366.74,473.35 L366.94,472.49 L367.19,471.45 L367.47,470.28 L367.75,469.03 L368.03,467.74 L368.28,466.44 L368.49,465.18 L368.63,463.98 L368.7,462.89 L368.69,461.93 L368.65,461.03 L368.57,460.16 L368.44,459.33 L368.27,458.51 L368.05,457.72 L367.78,456.94 L367.47,456.17 L367.11,455.41 L366.72,454.65 L366.29,453.89 L365.83,453.12 L365.32,452.36 L364.76,451.59 L364.15,450.84 L363.49,450.09 L362.76,449.36 L361.96,448.66 L361.1,447.99 L360.18,447.36 L359.17,446.77 L358.09,446.21 L356.95,445.68 L355.76,445.18 L354.53,444.71 L353.28,444.27 L352.03,443.87 L350.78,443.51 L349.56,443.18 L348.38,442.9 L347.26,442.66 L346.16,442.44 L345.07,442.25 L343.98,442.1 L342.88,441.98 L341.76,441.91 L340.61,441.87 L339.42,441.88 L338.18,441.94 L336.89,442.06 L335.52,442.2 L334.05,442.39 L332.51,442.6 L330.91,442.87 L329.29,443.18 L327.66,443.54 L326.06,443.96 L324.5,444.45 L323.01,445.02 L321.6,445.69 L320.29,446.45 L319.06,447.31 L317.89,448.26 L316.79,449.27 L315.74,450.32 L314.74,451.39 L313.78,452.48 L312.86,453.57 L311.97,454.62 L311.1,455.65 L310.23,456.69 L309.37,457.74 L308.54,458.8 L307.73,459.87 L306.94,460.98 L306.17,462.12 L305.43,463.29 L304.71,464.51 L304.02,465.78 L303.34,467.13 L302.69,468.59 L302.11,470.12 L301.58,471.68 L301.1,473.26 L300.64,474.82 L300.19,476.36 L299.75,477.84 L299.3,479.25 L298.83,480.55 L298.33,481.76 L297.79,482.93 L297.24,484.08 L296.68,485.17 L296.13,486.22 L295.56,487.21 L294.97,488.18 L294.37,489.12 L293.75,490.05 L293.09,490.97 L292.38,491.92 L291.62,492.91 L290.84,493.9 L290.05,494.88 L289.24,495.83 L288.42,496.75 L287.58,497.63 L286.73,498.47 L285.86,499.26 L284.96,500.01 L284.03,500.71 L283.02,501.41 L281.95,502.1 L280.82,502.76 L279.65,503.41 L278.43,504.03 L277.18,504.63 L275.9,505.2 L274.58,505.75 L273.24,506.27 L271.9,506.76 L270.52,507.22 L269.03,507.67 L267.43,508.1 L265.75,508.51 L264.04,508.89 L262.32,509.25 L260.61,509.58 L258.96,509.88 L257.39,510.14 L255.92,510.37 L254.59,510.57 L253.41,510.73 L252.36,510.86 L251.39,510.96 L250.48,511.02 L249.59,511.05 L248.69,511.05 L247.72,511.01 L246.65,510.94 L245.45,510.83 L244.13,510.68 L242.72,510.48 L241.24,510.25 L239.71,509.98 L238.14,509.67 L236.56,509.33 L234.98,508.96 L233.41,508.56 L231.87,508.13 L230.39,507.67 L228.92,507.17 L227.45,506.64 L225.98,506.06 L224.51,505.45 L223.04,504.81 L221.59,504.14 L220.14,503.45 L218.72,502.73 L217.32,502 L215.94,501.26 L214.61,500.5 L213.3,499.72 L212.01,498.91 L210.73,498.08 L209.46,497.22 L208.21,496.34 L206.95,495.45 L205.71,494.54 L204.46,493.63 L203.21,492.71 L201.96,491.78 L200.69,490.84 L199.43,489.89 L198.18,488.92 L196.95,487.96 L195.75,486.99 L194.59,486.03 L193.47,485.06 L192.42,484.11 L191.43,483.17 L190.53,482.27 L189.73,481.4 L189,480.54 L188.3,479.68 L187.62,478.8 L186.93,477.88 L186.21,476.91 L185.44,475.87 L184.58,474.75 L183.62,473.53 L182.5,472.22 L181.27,470.9 L179.97,469.59 L178.66,468.25 L177.35,466.89 L176.09,465.49 L174.92,464.04 L173.87,462.55 L172.96,460.99 L172.24,459.36 L171.63,457.53 L171.1,455.47 L170.66,453.25 L170.31,450.93 L170.05,448.55 L169.88,446.18 L169.8,443.86 L169.82,441.64 L169.93,439.59 L170.13,437.74 L170.42,436.09 L170.81,434.56 L171.28,433.13 L171.84,431.79 L172.49,430.52 L173.23,429.3 L174.06,428.11 L174.98,426.94 L175.99,425.77 L177.1,424.59 L178.25,423.46 L179.43,422.39 L180.68,421.37 L182,420.39 L183.44,419.44 L185,418.48 L186.72,417.52 L188.62,416.55 L190.71,415.54 L193.01,414.5 L195.62,413.4 L198.6,412.27 L201.87,411.1 L205.33,409.92 L208.9,408.74 L212.49,407.57 L216.02,406.43 L219.4,405.32 L222.55,404.27 L225.38,403.28 L227.92,402.37 L230.28,401.53 L232.49,400.73 L234.57,399.98 L236.55,399.25 L238.44,398.54 L240.26,397.83 L242.04,397.12 L243.8,396.39 L245.56,395.63 L247.29,394.85 L248.95,394.06 L250.54,393.27 L252.07,392.48 L253.56,391.69 L255.01,390.9 L256.42,390.11 L257.82,389.33 L259.21,388.56 L260.6,387.79 L261.98,387.03 L263.34,386.29 L264.69,385.55 L266.02,384.82 L267.34,384.08 L268.64,383.33 L269.94,382.56 L271.24,381.76 L272.52,380.92 L273.8,380.05 L275.07,379.15 L276.35,378.22 L277.63,377.27 L278.9,376.29 L280.16,375.29 L281.41,374.26 L282.62,373.2 L283.8,372.12 L284.93,371.01 L286.01,369.88 L287.03,368.71 L288,367.52 L288.92,366.3 L289.8,365.07 L290.63,363.82 L291.42,362.57 L292.18,361.32 L292.9,360.08 L293.6,358.86 L294.26,357.65 L294.9,356.47 L295.51,355.31 L296.11,354.15 L296.67,352.98 L297.21,351.79 L297.72,350.58 L298.19,349.34 L298.62,348.05 L299.01,346.72 L299.35,345.33 L299.64,343.92 L299.89,342.49 L300.08,341.05 L300.24,339.58 L300.35,338.08 L300.44,336.55 L300.49,334.98 L300.51,333.36 L300.52,331.69 L300.5,329.97 L300.48,328.18 L300.47,326.33 L300.44,324.39 L300.39,322.39 L300.31,320.33 L300.17,318.22 L299.97,316.07 L299.69,313.89 L299.32,311.69 L298.83,309.46 L298.2,307.25 L297.43,305.12 L296.56,303.06 L295.62,301.04 L294.65,299 L293.68,296.92 L292.72,294.74 L291.8,292.43 L290.95,289.95 L290.18,287.23 L289.45,284.14 L288.74,280.64 L288.03,276.85 L287.35,272.88 L286.69,268.82 L286.07,264.76 L285.48,260.82 L284.93,257.08 L284.42,253.64 L283.97,250.6 L283.55,247.92 L283.16,245.51 L282.79,243.32 L282.47,241.34 L282.2,239.54 L281.98,237.89 L281.83,236.35 L281.73,234.91 L281.7,233.52 L281.75,232.13 L281.86,230.76 L282.02,229.47 L282.24,228.27 L282.51,227.14 L282.84,226.08 L283.21,225.09 L283.62,224.16 L284.09,223.29 L284.61,222.47 L285.17,221.7 L285.76,220.99 L286.39,220.35 L287.07,219.76 L287.81,219.21 L288.62,218.7 L289.49,218.22 L290.44,217.78 L291.46,217.37 L292.56,216.99 L293.72,216.66 L294.97,216.36 L296.37,216.1 L297.89,215.88 L299.51,215.71 L301.18,215.58 L302.86,215.5 L304.54,215.46 L306.17,215.46 L307.72,215.51 L309.15,215.6 L310.48,215.72 L311.71,215.88 L312.88,216.08 L313.99,216.32 L315.07,216.6 L316.14,216.92 L317.22,217.29 L318.33,217.72 L319.49,218.21 L320.73,218.76 L322.05,219.38 L323.4,220.04 L324.77,220.75 L326.13,221.5 L327.48,222.29 L328.8,223.12 L330.1,223.99 L331.35,224.9 L332.55,225.85 L333.7,226.84 L334.86,227.93 L336.08,229.16 L337.32,230.51 L338.58,231.94 L339.84,233.44 L341.07,234.97 L342.27,236.51 L343.41,238.03 L344.49,239.51 L345.47,240.92 L346.35,242.23 L347.13,243.44 L347.83,244.6 L348.47,245.73 L349.07,246.85 L349.64,248.01 L350.2,249.22 L350.78,250.51 L351.37,251.92 L351.99,253.41 L352.58,254.95 L353.12,256.61 L353.65,258.41 L354.18,260.33 L354.73,262.35 L355.32,264.45 L355.97,266.61 L356.7,268.81 L357.53,271.02 L358.49,273.22 L359.56,275.41 L360.76,277.66 L362.05,279.96 L363.4,282.28 L364.8,284.57 L366.21,286.8 L367.6,288.94 L368.95,290.95 L370.23,292.8 L371.41,294.45 L372.51,295.92 L373.56,297.25 L374.57,298.46 L375.54,299.55 L376.5,300.54 L377.44,301.44 L378.38,302.25 L379.32,302.98 L380.27,303.64 L381.22,304.22 L382.1,304.74 L382.91,305.21 L383.71,305.64 L384.55,306 L385.45,306.28 L386.43,306.44 L387.48,306.47 L388.63,306.38 L389.91,306.16 L391.36,305.8 L393.02,305.29 L394.85,304.62 L396.83,303.81 L398.93,302.89 L401.11,301.88 L403.35,300.8 L405.62,299.67 L407.88,298.51 L410.1,297.34 L412.25,296.18 L414.42,294.95 L416.64,293.59 L418.9,292.15 L421.16,290.66 L423.4,289.16 L425.6,287.71 L427.74,286.32 L429.77,285.06 L431.69,283.95 L433.45,283.04 L435.13,282.27 L436.75,281.59 L438.3,281.01 L439.75,280.53 L441.09,280.16 L442.29,279.91 L443.32,279.78 L444.16,279.75 L444.76,279.82 L445.14,279.94 L445.34,280.04 L445.36,280.05 L445.32,279.98 L445.36,280.01 L445.49,280.28 L445.63,280.86 L445.75,281.71 L445.84,282.82 L445.9,284.16 L445.95,285.72 L445.96,287.51 L445.89,289.6 L445.76,291.96 L445.57,294.51 L445.35,297.22 L445.11,300.02 L444.86,302.87 L444.6,305.7 L444.37,308.47 L444.16,311.12 L443.96,313.68 L443.74,316.24 L443.51,318.8 L443.28,321.37 L443.05,323.95 L442.82,326.53 L442.62,329.12 L442.43,331.71 L442.27,334.31 L442.15,336.9 L442.05,339.53 L441.94,342.24 L441.84,345 L441.76,347.78 L441.71,350.54 L441.69,353.26 L441.71,355.89 L441.79,358.41 L441.94,360.78 L442.17,362.97 L442.44,364.94 L442.74,366.76 L443.08,368.47 L443.48,370.08 L443.95,371.6 L444.51,373.06 L445.16,374.44 L445.93,375.77 L446.81,377.05 L447.82,378.29 L448.95,379.49 L450.2,380.61 L451.55,381.65 L452.99,382.61 L454.5,383.5 L456.08,384.31 L457.73,385.05 L459.44,385.71 L461.2,386.3 L462.99,386.82 L464.78,387.26 L466.55,387.63 L468.34,387.92 L470.18,388.14 L472.1,388.3 L474.13,388.39 L476.31,388.42 L478.67,388.4 L481.25,388.32 L484.11,388.2 L487.31,388 L490.82,387.71 L494.58,387.34 L498.54,386.92 L502.64,386.45 L506.82,385.95 L511.02,385.44 L515.19,384.93 L519.27,384.45 L523.21,383.99 L527.05,383.53 L530.87,383.04 L534.66,382.53 L538.43,382.01 L542.2,381.5 L545.95,381.01 L549.71,380.55 L553.48,380.14 L557.26,379.78 L561.07,379.5 L564.98,379.29 L569.02,379.14 L573.14,379.04 L577.3,378.99 L581.43,378.97 L585.49,378.98 L589.42,379.01 L593.19,379.04 L596.72,379.08 L599.98,379.1 L603.02,379.13 L605.95,379.18 L608.76,379.25 L611.41,379.33 L613.89,379.42 L616.18,379.52 L618.25,379.61 L620.09,379.69 L621.67,379.75 L622.97,379.8Z" fill="#e0825f" stroke="#ffffff" stroke-opacity="0.45" stroke-width="1.3" paint-order="stroke" stroke-linejoin="round"/>
<g transform="translate(312.9,259.6) rotate(66.99)"><clipPath id="lc1"><path d="M-36.83,-0 L-35.3,-1.9 L-33.76,-2.7 L-32.23,-3.29 L-30.69,-3.78 L-29.16,-4.19 L-27.62,-4.55 L-26.09,-4.87 L-24.55,-5.16 L-23.02,-5.41 L-21.49,-5.64 L-19.95,-5.84 L-18.42,-6.03 L-16.88,-6.19 L-15.35,-6.34 L-13.81,-6.47 L-12.28,-6.58 L-10.74,-6.68 L-9.21,-6.77 L-7.67,-6.84 L-6.14,-6.9 L-4.6,-6.94 L-3.07,-6.97 L-1.53,-6.99 L0,-7 L1.53,-6.99 L3.07,-6.97 L4.6,-6.94 L6.14,-6.9 L7.67,-6.84 L9.21,-6.77 L10.74,-6.68 L12.28,-6.58 L13.81,-6.47 L15.35,-6.34 L16.88,-6.19 L18.42,-6.03 L19.95,-5.84 L21.49,-5.64 L23.02,-5.41 L24.55,-5.16 L26.09,-4.87 L27.62,-4.55 L29.16,-4.19 L30.69,-3.78 L32.23,-3.29 L33.76,-2.7 L35.3,-1.9 L36.83,-0 L36.83,0 L35.3,1.9 L33.76,2.7 L32.23,3.29 L30.69,3.78 L29.16,4.19 L27.62,4.55 L26.09,4.87 L24.55,5.16 L23.02,5.41 L21.49,5.64 L19.95,5.84 L18.42,6.03 L16.88,6.19 L15.35,6.34 L13.81,6.47 L12.28,6.58 L10.74,6.68 L9.21,6.77 L7.67,6.84 L6.14,6.9 L4.6,6.94 L3.07,6.97 L1.53,6.99 L0,7 L-1.53,6.99 L-3.07,6.97 L-4.6,6.94 L-6.14,6.9 L-7.67,6.84 L-9.21,6.77 L-10.74,6.68 L-12.28,6.58 L-13.81,6.47 L-15.35,6.34 L-16.88,6.19 L-18.42,6.03 L-19.95,5.84 L-21.49,5.64 L-23.02,5.41 L-24.55,5.16 L-26.09,4.87 L-27.62,4.55 L-29.16,4.19 L-30.69,3.78 L-32.23,3.29 L-33.76,2.7 L-35.3,1.9 L-36.83,0Z"/></clipPath><path d="M-36.83,-0 L-35.3,-1.9 L-33.76,-2.7 L-32.23,-3.29 L-30.69,-3.78 L-29.16,-4.19 L-27.62,-4.55 L-26.09,-4.87 L-24.55,-5.16 L-23.02,-5.41 L-21.49,-5.64 L-19.95,-5.84 L-18.42,-6.03 L-16.88,-6.19 L-15.35,-6.34 L-13.81,-6.47 L-12.28,-6.58 L-10.74,-6.68 L-9.21,-6.77 L-7.67,-6.84 L-6.14,-6.9 L-4.6,-6.94 L-3.07,-6.97 L-1.53,-6.99 L0,-7 L1.53,-6.99 L3.07,-6.97 L4.6,-6.94 L6.14,-6.9 L7.67,-6.84 L9.21,-6.77 L10.74,-6.68 L12.28,-6.58 L13.81,-6.47 L15.35,-6.34 L16.88,-6.19 L18.42,-6.03 L19.95,-5.84 L21.49,-5.64 L23.02,-5.41 L24.55,-5.16 L26.09,-4.87 L27.62,-4.55 L29.16,-4.19 L30.69,-3.78 L32.23,-3.29 L33.76,-2.7 L35.3,-1.9 L36.83,-0 L36.83,0 L35.3,1.9 L33.76,2.7 L32.23,3.29 L30.69,3.78 L29.16,4.19 L27.62,4.55 L26.09,4.87 L24.55,5.16 L23.02,5.41 L21.49,5.64 L19.95,5.84 L18.42,6.03 L16.88,6.19 L15.35,6.34 L13.81,6.47 L12.28,6.58 L10.74,6.68 L9.21,6.77 L7.67,6.84 L6.14,6.9 L4.6,6.94 L3.07,6.97 L1.53,6.99 L0,7 L-1.53,6.99 L-3.07,6.97 L-4.6,6.94 L-6.14,6.9 L-7.67,6.84 L-9.21,6.77 L-10.74,6.68 L-12.28,6.58 L-13.81,6.47 L-15.35,6.34 L-16.88,6.19 L-18.42,6.03 L-19.95,5.84 L-21.49,5.64 L-23.02,5.41 L-24.55,5.16 L-26.09,4.87 L-27.62,4.55 L-29.16,4.19 L-30.69,3.78 L-32.23,3.29 L-33.76,2.7 L-35.3,1.9 L-36.83,0Z" fill="#fff"/><g clip-path="url(#lc1)" stroke="#3a3a3a" stroke-width="0.6" fill="none"><path d="M-28.65,-7 V0"/><path d="M-24.55,0 V7"/><path d="M-20.46,-7 V0"/><path d="M-16.37,0 V7"/><path d="M-12.28,-7 V0"/><path d="M-8.18,0 V7"/><path d="M-4.09,-7 V0"/><path d="M0,0 V7"/><path d="M4.09,-7 V0"/><path d="M8.18,0 V7"/><path d="M12.28,-7 V0"/><path d="M16.37,0 V7"/><path d="M20.46,-7 V0"/><path d="M24.55,0 V7"/><path d="M28.65,-7 V0"/><path d="M32.74,0 V7"/></g><path d="M-36.53,0 H36.53" stroke="#7a7a7a" stroke-width="1.2"/><path d="M-36.83,-0 L-35.3,-1.9 L-33.76,-2.7 L-32.23,-3.29 L-30.69,-3.78 L-29.16,-4.19 L-27.62,-4.55 L-26.09,-4.87 L-24.55,-5.16 L-23.02,-5.41 L-21.49,-5.64 L-19.95,-5.84 L-18.42,-6.03 L-16.88,-6.19 L-15.35,-6.34 L-13.81,-6.47 L-12.28,-6.58 L-10.74,-6.68 L-9.21,-6.77 L-7.67,-6.84 L-6.14,-6.9 L-4.6,-6.94 L-3.07,-6.97 L-1.53,-6.99 L0,-7 L1.53,-6.99 L3.07,-6.97 L4.6,-6.94 L6.14,-6.9 L7.67,-6.84 L9.21,-6.77 L10.74,-6.68 L12.28,-6.58 L13.81,-6.47 L15.35,-6.34 L16.88,-6.19 L18.42,-6.03 L19.95,-5.84 L21.49,-5.64 L23.02,-5.41 L24.55,-5.16 L26.09,-4.87 L27.62,-4.55 L29.16,-4.19 L30.69,-3.78 L32.23,-3.29 L33.76,-2.7 L35.3,-1.9 L36.83,-0 L36.83,0 L35.3,1.9 L33.76,2.7 L32.23,3.29 L30.69,3.78 L29.16,4.19 L27.62,4.55 L26.09,4.87 L24.55,5.16 L23.02,5.41 L21.49,5.64 L19.95,5.84 L18.42,6.03 L16.88,6.19 L15.35,6.34 L13.81,6.47 L12.28,6.58 L10.74,6.68 L9.21,6.77 L7.67,6.84 L6.14,6.9 L4.6,6.94 L3.07,6.97 L1.53,6.99 L0,7 L-1.53,6.99 L-3.07,6.97 L-4.6,6.94 L-6.14,6.9 L-7.67,6.84 L-9.21,6.77 L-10.74,6.68 L-12.28,6.58 L-13.81,6.47 L-15.35,6.34 L-16.88,6.19 L-18.42,6.03 L-19.95,5.84 L-21.49,5.64 L-23.02,5.41 L-24.55,5.16 L-26.09,4.87 L-27.62,4.55 L-29.16,4.19 L-30.69,3.78 L-32.23,3.29 L-33.76,2.7 L-35.3,1.9 L-36.83,0Z" fill="none" stroke="#1e1e1e" stroke-width="0.75"/></g>
<g transform="translate(413.15,256.75) rotate(110.55)"><clipPath id="lc2"><path d="M-36.9,-0 L-35.36,-1.9 L-33.82,-2.7 L-32.29,-3.29 L-30.75,-3.78 L-29.21,-4.19 L-27.67,-4.55 L-26.14,-4.87 L-24.6,-5.16 L-23.06,-5.41 L-21.52,-5.64 L-19.99,-5.84 L-18.45,-6.03 L-16.91,-6.19 L-15.37,-6.34 L-13.84,-6.47 L-12.3,-6.58 L-10.76,-6.68 L-9.22,-6.77 L-7.69,-6.84 L-6.15,-6.9 L-4.61,-6.94 L-3.07,-6.97 L-1.54,-6.99 L0,-7 L1.54,-6.99 L3.07,-6.97 L4.61,-6.94 L6.15,-6.9 L7.69,-6.84 L9.22,-6.77 L10.76,-6.68 L12.3,-6.58 L13.84,-6.47 L15.37,-6.34 L16.91,-6.19 L18.45,-6.03 L19.99,-5.84 L21.52,-5.64 L23.06,-5.41 L24.6,-5.16 L26.14,-4.87 L27.67,-4.55 L29.21,-4.19 L30.75,-3.78 L32.29,-3.29 L33.82,-2.7 L35.36,-1.9 L36.9,-0 L36.9,0 L35.36,1.9 L33.82,2.7 L32.29,3.29 L30.75,3.78 L29.21,4.19 L27.67,4.55 L26.14,4.87 L24.6,5.16 L23.06,5.41 L21.52,5.64 L19.99,5.84 L18.45,6.03 L16.91,6.19 L15.37,6.34 L13.84,6.47 L12.3,6.58 L10.76,6.68 L9.22,6.77 L7.69,6.84 L6.15,6.9 L4.61,6.94 L3.07,6.97 L1.54,6.99 L0,7 L-1.54,6.99 L-3.07,6.97 L-4.61,6.94 L-6.15,6.9 L-7.69,6.84 L-9.22,6.77 L-10.76,6.68 L-12.3,6.58 L-13.84,6.47 L-15.37,6.34 L-16.91,6.19 L-18.45,6.03 L-19.99,5.84 L-21.52,5.64 L-23.06,5.41 L-24.6,5.16 L-26.14,4.87 L-27.67,4.55 L-29.21,4.19 L-30.75,3.78 L-32.29,3.29 L-33.82,2.7 L-35.36,1.9 L-36.9,0Z"/></clipPath><path d="M-36.9,-0 L-35.36,-1.9 L-33.82,-2.7 L-32.29,-3.29 L-30.75,-3.78 L-29.21,-4.19 L-27.67,-4.55 L-26.14,-4.87 L-24.6,-5.16 L-23.06,-5.41 L-21.52,-5.64 L-19.99,-5.84 L-18.45,-6.03 L-16.91,-6.19 L-15.37,-6.34 L-13.84,-6.47 L-12.3,-6.58 L-10.76,-6.68 L-9.22,-6.77 L-7.69,-6.84 L-6.15,-6.9 L-4.61,-6.94 L-3.07,-6.97 L-1.54,-6.99 L0,-7 L1.54,-6.99 L3.07,-6.97 L4.61,-6.94 L6.15,-6.9 L7.69,-6.84 L9.22,-6.77 L10.76,-6.68 L12.3,-6.58 L13.84,-6.47 L15.37,-6.34 L16.91,-6.19 L18.45,-6.03 L19.99,-5.84 L21.52,-5.64 L23.06,-5.41 L24.6,-5.16 L26.14,-4.87 L27.67,-4.55 L29.21,-4.19 L30.75,-3.78 L32.29,-3.29 L33.82,-2.7 L35.36,-1.9 L36.9,-0 L36.9,0 L35.36,1.9 L33.82,2.7 L32.29,3.29 L30.75,3.78 L29.21,4.19 L27.67,4.55 L26.14,4.87 L24.6,5.16 L23.06,5.41 L21.52,5.64 L19.99,5.84 L18.45,6.03 L16.91,6.19 L15.37,6.34 L13.84,6.47 L12.3,6.58 L10.76,6.68 L9.22,6.77 L7.69,6.84 L6.15,6.9 L4.61,6.94 L3.07,6.97 L1.54,6.99 L0,7 L-1.54,6.99 L-3.07,6.97 L-4.61,6.94 L-6.15,6.9 L-7.69,6.84 L-9.22,6.77 L-10.76,6.68 L-12.3,6.58 L-13.84,6.47 L-15.37,6.34 L-16.91,6.19 L-18.45,6.03 L-19.99,5.84 L-21.52,5.64 L-23.06,5.41 L-24.6,5.16 L-26.14,4.87 L-27.67,4.55 L-29.21,4.19 L-30.75,3.78 L-32.29,3.29 L-33.82,2.7 L-35.36,1.9 L-36.9,0Z" fill="#fff"/><g clip-path="url(#lc2)" stroke="#3a3a3a" stroke-width="0.6" fill="none"><path d="M-28.7,-7 V0"/><path d="M-24.6,0 V7"/><path d="M-20.5,-7 V0"/><path d="M-16.4,0 V7"/><path d="M-12.3,-7 V0"/><path d="M-8.2,0 V7"/><path d="M-4.1,-7 V0"/><path d="M0,0 V7"/><path d="M4.1,-7 V0"/><path d="M8.2,0 V7"/><path d="M12.3,-7 V0"/><path d="M16.4,0 V7"/><path d="M20.5,-7 V0"/><path d="M24.6,0 V7"/><path d="M28.7,-7 V0"/><path d="M32.8,0 V7"/></g><path d="M-36.6,0 H36.6" stroke="#7a7a7a" stroke-width="1.2"/><path d="M-36.9,-0 L-35.36,-1.9 L-33.82,-2.7 L-32.29,-3.29 L-30.75,-3.78 L-29.21,-4.19 L-27.67,-4.55 L-26.14,-4.87 L-24.6,-5.16 L-23.06,-5.41 L-21.52,-5.64 L-19.99,-5.84 L-18.45,-6.03 L-16.91,-6.19 L-15.37,-6.34 L-13.84,-6.47 L-12.3,-6.58 L-10.76,-6.68 L-9.22,-6.77 L-7.69,-6.84 L-6.15,-6.9 L-4.61,-6.94 L-3.07,-6.97 L-1.54,-6.99 L0,-7 L1.54,-6.99 L3.07,-6.97 L4.61,-6.94 L6.15,-6.9 L7.69,-6.84 L9.22,-6.77 L10.76,-6.68 L12.3,-6.58 L13.84,-6.47 L15.37,-6.34 L16.91,-6.19 L18.45,-6.03 L19.99,-5.84 L21.52,-5.64 L23.06,-5.41 L24.6,-5.16 L26.14,-4.87 L27.67,-4.55 L29.21,-4.19 L30.75,-3.78 L32.29,-3.29 L33.82,-2.7 L35.36,-1.9 L36.9,-0 L36.9,0 L35.36,1.9 L33.82,2.7 L32.29,3.29 L30.75,3.78 L29.21,4.19 L27.67,4.55 L26.14,4.87 L24.6,5.16 L23.06,5.41 L21.52,5.64 L19.99,5.84 L18.45,6.03 L16.91,6.19 L15.37,6.34 L13.84,6.47 L12.3,6.58 L10.76,6.68 L9.22,6.77 L7.69,6.84 L6.15,6.9 L4.61,6.94 L3.07,6.97 L1.54,6.99 L0,7 L-1.54,6.99 L-3.07,6.97 L-4.61,6.94 L-6.15,6.9 L-7.69,6.84 L-9.22,6.77 L-10.76,6.68 L-12.3,6.58 L-13.84,6.47 L-15.37,6.34 L-16.91,6.19 L-18.45,6.03 L-19.99,5.84 L-21.52,5.64 L-23.06,5.41 L-24.6,5.16 L-26.14,4.87 L-27.67,4.55 L-29.21,4.19 L-30.75,3.78 L-32.29,3.29 L-33.82,2.7 L-35.36,1.9 L-36.9,0Z" fill="none" stroke="#1e1e1e" stroke-width="0.75"/></g>
<g transform="translate(243.5,332.3) rotate(21.69)"><clipPath id="lc3"><path d="M-37.88,-0 L-36.3,-1.9 L-34.73,-2.7 L-33.15,-3.29 L-31.57,-3.78 L-29.99,-4.19 L-28.41,-4.55 L-26.83,-4.87 L-25.25,-5.16 L-23.68,-5.41 L-22.1,-5.64 L-20.52,-5.84 L-18.94,-6.03 L-17.36,-6.19 L-15.78,-6.34 L-14.21,-6.47 L-12.63,-6.58 L-11.05,-6.68 L-9.47,-6.77 L-7.89,-6.84 L-6.31,-6.9 L-4.74,-6.94 L-3.16,-6.97 L-1.58,-6.99 L0,-7 L1.58,-6.99 L3.16,-6.97 L4.74,-6.94 L6.31,-6.9 L7.89,-6.84 L9.47,-6.77 L11.05,-6.68 L12.63,-6.58 L14.21,-6.47 L15.78,-6.34 L17.36,-6.19 L18.94,-6.03 L20.52,-5.84 L22.1,-5.64 L23.68,-5.41 L25.25,-5.16 L26.83,-4.87 L28.41,-4.55 L29.99,-4.19 L31.57,-3.78 L33.15,-3.29 L34.73,-2.7 L36.3,-1.9 L37.88,-0 L37.88,0 L36.3,1.9 L34.73,2.7 L33.15,3.29 L31.57,3.78 L29.99,4.19 L28.41,4.55 L26.83,4.87 L25.25,5.16 L23.68,5.41 L22.1,5.64 L20.52,5.84 L18.94,6.03 L17.36,6.19 L15.78,6.34 L14.21,6.47 L12.63,6.58 L11.05,6.68 L9.47,6.77 L7.89,6.84 L6.31,6.9 L4.74,6.94 L3.16,6.97 L1.58,6.99 L0,7 L-1.58,6.99 L-3.16,6.97 L-4.74,6.94 L-6.31,6.9 L-7.89,6.84 L-9.47,6.77 L-11.05,6.68 L-12.63,6.58 L-14.21,6.47 L-15.78,6.34 L-17.36,6.19 L-18.94,6.03 L-20.52,5.84 L-22.1,5.64 L-23.68,5.41 L-25.25,5.16 L-26.83,4.87 L-28.41,4.55 L-29.99,4.19 L-31.57,3.78 L-33.15,3.29 L-34.73,2.7 L-36.3,1.9 L-37.88,0Z"/></clipPath><path d="M-37.88,-0 L-36.3,-1.9 L-34.73,-2.7 L-33.15,-3.29 L-31.57,-3.78 L-29.99,-4.19 L-28.41,-4.55 L-26.83,-4.87 L-25.25,-5.16 L-23.68,-5.41 L-22.1,-5.64 L-20.52,-5.84 L-18.94,-6.03 L-17.36,-6.19 L-15.78,-6.34 L-14.21,-6.47 L-12.63,-6.58 L-11.05,-6.68 L-9.47,-6.77 L-7.89,-6.84 L-6.31,-6.9 L-4.74,-6.94 L-3.16,-6.97 L-1.58,-6.99 L0,-7 L1.58,-6.99 L3.16,-6.97 L4.74,-6.94 L6.31,-6.9 L7.89,-6.84 L9.47,-6.77 L11.05,-6.68 L12.63,-6.58 L14.21,-6.47 L15.78,-6.34 L17.36,-6.19 L18.94,-6.03 L20.52,-5.84 L22.1,-5.64 L23.68,-5.41 L25.25,-5.16 L26.83,-4.87 L28.41,-4.55 L29.99,-4.19 L31.57,-3.78 L33.15,-3.29 L34.73,-2.7 L36.3,-1.9 L37.88,-0 L37.88,0 L36.3,1.9 L34.73,2.7 L33.15,3.29 L31.57,3.78 L29.99,4.19 L28.41,4.55 L26.83,4.87 L25.25,5.16 L23.68,5.41 L22.1,5.64 L20.52,5.84 L18.94,6.03 L17.36,6.19 L15.78,6.34 L14.21,6.47 L12.63,6.58 L11.05,6.68 L9.47,6.77 L7.89,6.84 L6.31,6.9 L4.74,6.94 L3.16,6.97 L1.58,6.99 L0,7 L-1.58,6.99 L-3.16,6.97 L-4.74,6.94 L-6.31,6.9 L-7.89,6.84 L-9.47,6.77 L-11.05,6.68 L-12.63,6.58 L-14.21,6.47 L-15.78,6.34 L-17.36,6.19 L-18.94,6.03 L-20.52,5.84 L-22.1,5.64 L-23.68,5.41 L-25.25,5.16 L-26.83,4.87 L-28.41,4.55 L-29.99,4.19 L-31.57,3.78 L-33.15,3.29 L-34.73,2.7 L-36.3,1.9 L-37.88,0Z" fill="#fff"/><g clip-path="url(#lc3)" stroke="#3a3a3a" stroke-width="0.6" fill="none"><path d="M-29.46,-7 V0"/><path d="M-25.25,0 V7"/><path d="M-21.05,-7 V0"/><path d="M-16.84,0 V7"/><path d="M-12.63,-7 V0"/><path d="M-8.42,0 V7"/><path d="M-4.21,-7 V0"/><path d="M0,0 V7"/><path d="M4.21,-7 V0"/><path d="M8.42,0 V7"/><path d="M12.63,-7 V0"/><path d="M16.84,0 V7"/><path d="M21.05,-7 V0"/><path d="M25.25,0 V7"/><path d="M29.46,-7 V0"/><path d="M33.67,0 V7"/></g><path d="M-37.58,0 H37.58" stroke="#7a7a7a" stroke-width="1.2"/><path d="M-37.88,-0 L-36.3,-1.9 L-34.73,-2.7 L-33.15,-3.29 L-31.57,-3.78 L-29.99,-4.19 L-28.41,-4.55 L-26.83,-4.87 L-25.25,-5.16 L-23.68,-5.41 L-22.1,-5.64 L-20.52,-5.84 L-18.94,-6.03 L-17.36,-6.19 L-15.78,-6.34 L-14.21,-6.47 L-12.63,-6.58 L-11.05,-6.68 L-9.47,-6.77 L-7.89,-6.84 L-6.31,-6.9 L-4.74,-6.94 L-3.16,-6.97 L-1.58,-6.99 L0,-7 L1.58,-6.99 L3.16,-6.97 L4.74,-6.94 L6.31,-6.9 L7.89,-6.84 L9.47,-6.77 L11.05,-6.68 L12.63,-6.58 L14.21,-6.47 L15.78,-6.34 L17.36,-6.19 L18.94,-6.03 L20.52,-5.84 L22.1,-5.64 L23.68,-5.41 L25.25,-5.16 L26.83,-4.87 L28.41,-4.55 L29.99,-4.19 L31.57,-3.78 L33.15,-3.29 L34.73,-2.7 L36.3,-1.9 L37.88,-0 L37.88,0 L36.3,1.9 L34.73,2.7 L33.15,3.29 L31.57,3.78 L29.99,4.19 L28.41,4.55 L26.83,4.87 L25.25,5.16 L23.68,5.41 L22.1,5.64 L20.52,5.84 L18.94,6.03 L17.36,6.19 L15.78,6.34 L14.21,6.47 L12.63,6.58 L11.05,6.68 L9.47,6.77 L7.89,6.84 L6.31,6.9 L4.74,6.94 L3.16,6.97 L1.58,6.99 L0,7 L-1.58,6.99 L-3.16,6.97 L-4.74,6.94 L-6.31,6.9 L-7.89,6.84 L-9.47,6.77 L-11.05,6.68 L-12.63,6.58 L-14.21,6.47 L-15.78,6.34 L-17.36,6.19 L-18.94,6.03 L-20.52,5.84 L-22.1,5.64 L-23.68,5.41 L-25.25,5.16 L-26.83,4.87 L-28.41,4.55 L-29.99,4.19 L-31.57,3.78 L-33.15,3.29 L-34.73,2.7 L-36.3,1.9 L-37.88,0Z" fill="none" stroke="#1e1e1e" stroke-width="0.75"/></g>
<g transform="translate(246.05,432.75) rotate(-23.58)"><clipPath id="lc4"><path d="M-37.37,-0 L-35.81,-1.9 L-34.26,-2.7 L-32.7,-3.29 L-31.14,-3.78 L-29.59,-4.19 L-28.03,-4.55 L-26.47,-4.87 L-24.91,-5.16 L-23.36,-5.41 L-21.8,-5.64 L-20.24,-5.84 L-18.69,-6.03 L-17.13,-6.19 L-15.57,-6.34 L-14.01,-6.47 L-12.46,-6.58 L-10.9,-6.68 L-9.34,-6.77 L-7.79,-6.84 L-6.23,-6.9 L-4.67,-6.94 L-3.11,-6.97 L-1.56,-6.99 L0,-7 L1.56,-6.99 L3.11,-6.97 L4.67,-6.94 L6.23,-6.9 L7.79,-6.84 L9.34,-6.77 L10.9,-6.68 L12.46,-6.58 L14.01,-6.47 L15.57,-6.34 L17.13,-6.19 L18.69,-6.03 L20.24,-5.84 L21.8,-5.64 L23.36,-5.41 L24.91,-5.16 L26.47,-4.87 L28.03,-4.55 L29.59,-4.19 L31.14,-3.78 L32.7,-3.29 L34.26,-2.7 L35.81,-1.9 L37.37,-0 L37.37,0 L35.81,1.9 L34.26,2.7 L32.7,3.29 L31.14,3.78 L29.59,4.19 L28.03,4.55 L26.47,4.87 L24.91,5.16 L23.36,5.41 L21.8,5.64 L20.24,5.84 L18.69,6.03 L17.13,6.19 L15.57,6.34 L14.01,6.47 L12.46,6.58 L10.9,6.68 L9.34,6.77 L7.79,6.84 L6.23,6.9 L4.67,6.94 L3.11,6.97 L1.56,6.99 L0,7 L-1.56,6.99 L-3.11,6.97 L-4.67,6.94 L-6.23,6.9 L-7.79,6.84 L-9.34,6.77 L-10.9,6.68 L-12.46,6.58 L-14.01,6.47 L-15.57,6.34 L-17.13,6.19 L-18.69,6.03 L-20.24,5.84 L-21.8,5.64 L-23.36,5.41 L-24.91,5.16 L-26.47,4.87 L-28.03,4.55 L-29.59,4.19 L-31.14,3.78 L-32.7,3.29 L-34.26,2.7 L-35.81,1.9 L-37.37,0Z"/></clipPath><path d="M-37.37,-0 L-35.81,-1.9 L-34.26,-2.7 L-32.7,-3.29 L-31.14,-3.78 L-29.59,-4.19 L-28.03,-4.55 L-26.47,-4.87 L-24.91,-5.16 L-23.36,-5.41 L-21.8,-5.64 L-20.24,-5.84 L-18.69,-6.03 L-17.13,-6.19 L-15.57,-6.34 L-14.01,-6.47 L-12.46,-6.58 L-10.9,-6.68 L-9.34,-6.77 L-7.79,-6.84 L-6.23,-6.9 L-4.67,-6.94 L-3.11,-6.97 L-1.56,-6.99 L0,-7 L1.56,-6.99 L3.11,-6.97 L4.67,-6.94 L6.23,-6.9 L7.79,-6.84 L9.34,-6.77 L10.9,-6.68 L12.46,-6.58 L14.01,-6.47 L15.57,-6.34 L17.13,-6.19 L18.69,-6.03 L20.24,-5.84 L21.8,-5.64 L23.36,-5.41 L24.91,-5.16 L26.47,-4.87 L28.03,-4.55 L29.59,-4.19 L31.14,-3.78 L32.7,-3.29 L34.26,-2.7 L35.81,-1.9 L37.37,-0 L37.37,0 L35.81,1.9 L34.26,2.7 L32.7,3.29 L31.14,3.78 L29.59,4.19 L28.03,4.55 L26.47,4.87 L24.91,5.16 L23.36,5.41 L21.8,5.64 L20.24,5.84 L18.69,6.03 L17.13,6.19 L15.57,6.34 L14.01,6.47 L12.46,6.58 L10.9,6.68 L9.34,6.77 L7.79,6.84 L6.23,6.9 L4.67,6.94 L3.11,6.97 L1.56,6.99 L0,7 L-1.56,6.99 L-3.11,6.97 L-4.67,6.94 L-6.23,6.9 L-7.79,6.84 L-9.34,6.77 L-10.9,6.68 L-12.46,6.58 L-14.01,6.47 L-15.57,6.34 L-17.13,6.19 L-18.69,6.03 L-20.24,5.84 L-21.8,5.64 L-23.36,5.41 L-24.91,5.16 L-26.47,4.87 L-28.03,4.55 L-29.59,4.19 L-31.14,3.78 L-32.7,3.29 L-34.26,2.7 L-35.81,1.9 L-37.37,0Z" fill="#fff"/><g clip-path="url(#lc4)" stroke="#3a3a3a" stroke-width="0.6" fill="none"><path d="M-29.07,-7 V0"/><path d="M-24.91,0 V7"/><path d="M-20.76,-7 V0"/><path d="M-16.61,0 V7"/><path d="M-12.46,-7 V0"/><path d="M-8.3,0 V7"/><path d="M-4.15,-7 V0"/><path d="M0,0 V7"/><path d="M4.15,-7 V0"/><path d="M8.3,0 V7"/><path d="M12.46,-7 V0"/><path d="M16.61,0 V7"/><path d="M20.76,-7 V0"/><path d="M24.91,0 V7"/><path d="M29.07,-7 V0"/><path d="M33.22,0 V7"/></g><path d="M-37.07,0 H37.07" stroke="#7a7a7a" stroke-width="1.2"/><path d="M-37.37,-0 L-35.81,-1.9 L-34.26,-2.7 L-32.7,-3.29 L-31.14,-3.78 L-29.59,-4.19 L-28.03,-4.55 L-26.47,-4.87 L-24.91,-5.16 L-23.36,-5.41 L-21.8,-5.64 L-20.24,-5.84 L-18.69,-6.03 L-17.13,-6.19 L-15.57,-6.34 L-14.01,-6.47 L-12.46,-6.58 L-10.9,-6.68 L-9.34,-6.77 L-7.79,-6.84 L-6.23,-6.9 L-4.67,-6.94 L-3.11,-6.97 L-1.56,-6.99 L0,-7 L1.56,-6.99 L3.11,-6.97 L4.67,-6.94 L6.23,-6.9 L7.79,-6.84 L9.34,-6.77 L10.9,-6.68 L12.46,-6.58 L14.01,-6.47 L15.57,-6.34 L17.13,-6.19 L18.69,-6.03 L20.24,-5.84 L21.8,-5.64 L23.36,-5.41 L24.91,-5.16 L26.47,-4.87 L28.03,-4.55 L29.59,-4.19 L31.14,-3.78 L32.7,-3.29 L34.26,-2.7 L35.81,-1.9 L37.37,-0 L37.37,0 L35.81,1.9 L34.26,2.7 L32.7,3.29 L31.14,3.78 L29.59,4.19 L28.03,4.55 L26.47,4.87 L24.91,5.16 L23.36,5.41 L21.8,5.64 L20.24,5.84 L18.69,6.03 L17.13,6.19 L15.57,6.34 L14.01,6.47 L12.46,6.58 L10.9,6.68 L9.34,6.77 L7.79,6.84 L6.23,6.9 L4.67,6.94 L3.11,6.97 L1.56,6.99 L0,7 L-1.56,6.99 L-3.11,6.97 L-4.67,6.94 L-6.23,6.9 L-7.79,6.84 L-9.34,6.77 L-10.9,6.68 L-12.46,6.58 L-14.01,6.47 L-15.57,6.34 L-17.13,6.19 L-18.69,6.03 L-20.24,5.84 L-21.8,5.64 L-23.36,5.41 L-24.91,5.16 L-26.47,4.87 L-28.03,4.55 L-29.59,4.19 L-31.14,3.78 L-32.7,3.29 L-34.26,2.7 L-35.81,1.9 L-37.37,0Z" fill="none" stroke="#1e1e1e" stroke-width="0.75"/></g>
<g transform="translate(487.1,325.45) rotate(-22.99)"><clipPath id="lc5"><path d="M-37.26,-0 L-35.71,-1.9 L-34.15,-2.7 L-32.6,-3.29 L-31.05,-3.78 L-29.5,-4.19 L-27.94,-4.55 L-26.39,-4.87 L-24.84,-5.16 L-23.29,-5.41 L-21.73,-5.64 L-20.18,-5.84 L-18.63,-6.03 L-17.08,-6.19 L-15.52,-6.34 L-13.97,-6.47 L-12.42,-6.58 L-10.87,-6.68 L-9.31,-6.77 L-7.76,-6.84 L-6.21,-6.9 L-4.66,-6.94 L-3.1,-6.97 L-1.55,-6.99 L0,-7 L1.55,-6.99 L3.1,-6.97 L4.66,-6.94 L6.21,-6.9 L7.76,-6.84 L9.31,-6.77 L10.87,-6.68 L12.42,-6.58 L13.97,-6.47 L15.52,-6.34 L17.08,-6.19 L18.63,-6.03 L20.18,-5.84 L21.73,-5.64 L23.29,-5.41 L24.84,-5.16 L26.39,-4.87 L27.94,-4.55 L29.5,-4.19 L31.05,-3.78 L32.6,-3.29 L34.15,-2.7 L35.71,-1.9 L37.26,-0 L37.26,0 L35.71,1.9 L34.15,2.7 L32.6,3.29 L31.05,3.78 L29.5,4.19 L27.94,4.55 L26.39,4.87 L24.84,5.16 L23.29,5.41 L21.73,5.64 L20.18,5.84 L18.63,6.03 L17.08,6.19 L15.52,6.34 L13.97,6.47 L12.42,6.58 L10.87,6.68 L9.31,6.77 L7.76,6.84 L6.21,6.9 L4.66,6.94 L3.1,6.97 L1.55,6.99 L0,7 L-1.55,6.99 L-3.1,6.97 L-4.66,6.94 L-6.21,6.9 L-7.76,6.84 L-9.31,6.77 L-10.87,6.68 L-12.42,6.58 L-13.97,6.47 L-15.52,6.34 L-17.08,6.19 L-18.63,6.03 L-20.18,5.84 L-21.73,5.64 L-23.29,5.41 L-24.84,5.16 L-26.39,4.87 L-27.94,4.55 L-29.5,4.19 L-31.05,3.78 L-32.6,3.29 L-34.15,2.7 L-35.71,1.9 L-37.26,0Z"/></clipPath><path d="M-37.26,-0 L-35.71,-1.9 L-34.15,-2.7 L-32.6,-3.29 L-31.05,-3.78 L-29.5,-4.19 L-27.94,-4.55 L-26.39,-4.87 L-24.84,-5.16 L-23.29,-5.41 L-21.73,-5.64 L-20.18,-5.84 L-18.63,-6.03 L-17.08,-6.19 L-15.52,-6.34 L-13.97,-6.47 L-12.42,-6.58 L-10.87,-6.68 L-9.31,-6.77 L-7.76,-6.84 L-6.21,-6.9 L-4.66,-6.94 L-3.1,-6.97 L-1.55,-6.99 L0,-7 L1.55,-6.99 L3.1,-6.97 L4.66,-6.94 L6.21,-6.9 L7.76,-6.84 L9.31,-6.77 L10.87,-6.68 L12.42,-6.58 L13.97,-6.47 L15.52,-6.34 L17.08,-6.19 L18.63,-6.03 L20.18,-5.84 L21.73,-5.64 L23.29,-5.41 L24.84,-5.16 L26.39,-4.87 L27.94,-4.55 L29.5,-4.19 L31.05,-3.78 L32.6,-3.29 L34.15,-2.7 L35.71,-1.9 L37.26,-0 L37.26,0 L35.71,1.9 L34.15,2.7 L32.6,3.29 L31.05,3.78 L29.5,4.19 L27.94,4.55 L26.39,4.87 L24.84,5.16 L23.29,5.41 L21.73,5.64 L20.18,5.84 L18.63,6.03 L17.08,6.19 L15.52,6.34 L13.97,6.47 L12.42,6.58 L10.87,6.68 L9.31,6.77 L7.76,6.84 L6.21,6.9 L4.66,6.94 L3.1,6.97 L1.55,6.99 L0,7 L-1.55,6.99 L-3.1,6.97 L-4.66,6.94 L-6.21,6.9 L-7.76,6.84 L-9.31,6.77 L-10.87,6.68 L-12.42,6.58 L-13.97,6.47 L-15.52,6.34 L-17.08,6.19 L-18.63,6.03 L-20.18,5.84 L-21.73,5.64 L-23.29,5.41 L-24.84,5.16 L-26.39,4.87 L-27.94,4.55 L-29.5,4.19 L-31.05,3.78 L-32.6,3.29 L-34.15,2.7 L-35.71,1.9 L-37.26,0Z" fill="#fff"/><g clip-path="url(#lc5)" stroke="#3a3a3a" stroke-width="0.6" fill="none"><path d="M-28.98,-7 V0"/><path d="M-24.84,0 V7"/><path d="M-20.7,-7 V0"/><path d="M-16.56,0 V7"/><path d="M-12.42,-7 V0"/><path d="M-8.28,0 V7"/><path d="M-4.14,-7 V0"/><path d="M0,0 V7"/><path d="M4.14,-7 V0"/><path d="M8.28,0 V7"/><path d="M12.42,-7 V0"/><path d="M16.56,0 V7"/><path d="M20.7,-7 V0"/><path d="M24.84,0 V7"/><path d="M28.98,-7 V0"/><path d="M33.12,0 V7"/></g><path d="M-36.96,0 H36.96" stroke="#7a7a7a" stroke-width="1.2"/><path d="M-37.26,-0 L-35.71,-1.9 L-34.15,-2.7 L-32.6,-3.29 L-31.05,-3.78 L-29.5,-4.19 L-27.94,-4.55 L-26.39,-4.87 L-24.84,-5.16 L-23.29,-5.41 L-21.73,-5.64 L-20.18,-5.84 L-18.63,-6.03 L-17.08,-6.19 L-15.52,-6.34 L-13.97,-6.47 L-12.42,-6.58 L-10.87,-6.68 L-9.31,-6.77 L-7.76,-6.84 L-6.21,-6.9 L-4.66,-6.94 L-3.1,-6.97 L-1.55,-6.99 L0,-7 L1.55,-6.99 L3.1,-6.97 L4.66,-6.94 L6.21,-6.9 L7.76,-6.84 L9.31,-6.77 L10.87,-6.68 L12.42,-6.58 L13.97,-6.47 L15.52,-6.34 L17.08,-6.19 L18.63,-6.03 L20.18,-5.84 L21.73,-5.64 L23.29,-5.41 L24.84,-5.16 L26.39,-4.87 L27.94,-4.55 L29.5,-4.19 L31.05,-3.78 L32.6,-3.29 L34.15,-2.7 L35.71,-1.9 L37.26,-0 L37.26,0 L35.71,1.9 L34.15,2.7 L32.6,3.29 L31.05,3.78 L29.5,4.19 L27.94,4.55 L26.39,4.87 L24.84,5.16 L23.29,5.41 L21.73,5.64 L20.18,5.84 L18.63,6.03 L17.08,6.19 L15.52,6.34 L13.97,6.47 L12.42,6.58 L10.87,6.68 L9.31,6.77 L7.76,6.84 L6.21,6.9 L4.66,6.94 L3.1,6.97 L1.55,6.99 L0,7 L-1.55,6.99 L-3.1,6.97 L-4.66,6.94 L-6.21,6.9 L-7.76,6.84 L-9.31,6.77 L-10.87,6.68 L-12.42,6.58 L-13.97,6.47 L-15.52,6.34 L-17.08,6.19 L-18.63,6.03 L-20.18,5.84 L-21.73,5.64 L-23.29,5.41 L-24.84,5.16 L-26.39,4.87 L-27.94,4.55 L-29.5,4.19 L-31.05,3.78 L-32.6,3.29 L-34.15,2.7 L-35.71,1.9 L-37.26,0Z" fill="none" stroke="#1e1e1e" stroke-width="0.75"/></g>
<g transform="translate(489.45,426.25) rotate(20.71)"><clipPath id="lc6"><path d="M-37.47,-0 L-35.91,-1.9 L-34.35,-2.7 L-32.79,-3.29 L-31.23,-3.78 L-29.66,-4.19 L-28.1,-4.55 L-26.54,-4.87 L-24.98,-5.16 L-23.42,-5.41 L-21.86,-5.64 L-20.3,-5.84 L-18.74,-6.03 L-17.17,-6.19 L-15.61,-6.34 L-14.05,-6.47 L-12.49,-6.58 L-10.93,-6.68 L-9.37,-6.77 L-7.81,-6.84 L-6.25,-6.9 L-4.68,-6.94 L-3.12,-6.97 L-1.56,-6.99 L0,-7 L1.56,-6.99 L3.12,-6.97 L4.68,-6.94 L6.25,-6.9 L7.81,-6.84 L9.37,-6.77 L10.93,-6.68 L12.49,-6.58 L14.05,-6.47 L15.61,-6.34 L17.17,-6.19 L18.74,-6.03 L20.3,-5.84 L21.86,-5.64 L23.42,-5.41 L24.98,-5.16 L26.54,-4.87 L28.1,-4.55 L29.66,-4.19 L31.23,-3.78 L32.79,-3.29 L34.35,-2.7 L35.91,-1.9 L37.47,-0 L37.47,0 L35.91,1.9 L34.35,2.7 L32.79,3.29 L31.23,3.78 L29.66,4.19 L28.1,4.55 L26.54,4.87 L24.98,5.16 L23.42,5.41 L21.86,5.64 L20.3,5.84 L18.74,6.03 L17.17,6.19 L15.61,6.34 L14.05,6.47 L12.49,6.58 L10.93,6.68 L9.37,6.77 L7.81,6.84 L6.25,6.9 L4.68,6.94 L3.12,6.97 L1.56,6.99 L0,7 L-1.56,6.99 L-3.12,6.97 L-4.68,6.94 L-6.25,6.9 L-7.81,6.84 L-9.37,6.77 L-10.93,6.68 L-12.49,6.58 L-14.05,6.47 L-15.61,6.34 L-17.17,6.19 L-18.74,6.03 L-20.3,5.84 L-21.86,5.64 L-23.42,5.41 L-24.98,5.16 L-26.54,4.87 L-28.1,4.55 L-29.66,4.19 L-31.23,3.78 L-32.79,3.29 L-34.35,2.7 L-35.91,1.9 L-37.47,0Z"/></clipPath><path d="M-37.47,-0 L-35.91,-1.9 L-34.35,-2.7 L-32.79,-3.29 L-31.23,-3.78 L-29.66,-4.19 L-28.1,-4.55 L-26.54,-4.87 L-24.98,-5.16 L-23.42,-5.41 L-21.86,-5.64 L-20.3,-5.84 L-18.74,-6.03 L-17.17,-6.19 L-15.61,-6.34 L-14.05,-6.47 L-12.49,-6.58 L-10.93,-6.68 L-9.37,-6.77 L-7.81,-6.84 L-6.25,-6.9 L-4.68,-6.94 L-3.12,-6.97 L-1.56,-6.99 L0,-7 L1.56,-6.99 L3.12,-6.97 L4.68,-6.94 L6.25,-6.9 L7.81,-6.84 L9.37,-6.77 L10.93,-6.68 L12.49,-6.58 L14.05,-6.47 L15.61,-6.34 L17.17,-6.19 L18.74,-6.03 L20.3,-5.84 L21.86,-5.64 L23.42,-5.41 L24.98,-5.16 L26.54,-4.87 L28.1,-4.55 L29.66,-4.19 L31.23,-3.78 L32.79,-3.29 L34.35,-2.7 L35.91,-1.9 L37.47,-0 L37.47,0 L35.91,1.9 L34.35,2.7 L32.79,3.29 L31.23,3.78 L29.66,4.19 L28.1,4.55 L26.54,4.87 L24.98,5.16 L23.42,5.41 L21.86,5.64 L20.3,5.84 L18.74,6.03 L17.17,6.19 L15.61,6.34 L14.05,6.47 L12.49,6.58 L10.93,6.68 L9.37,6.77 L7.81,6.84 L6.25,6.9 L4.68,6.94 L3.12,6.97 L1.56,6.99 L0,7 L-1.56,6.99 L-3.12,6.97 L-4.68,6.94 L-6.25,6.9 L-7.81,6.84 L-9.37,6.77 L-10.93,6.68 L-12.49,6.58 L-14.05,6.47 L-15.61,6.34 L-17.17,6.19 L-18.74,6.03 L-20.3,5.84 L-21.86,5.64 L-23.42,5.41 L-24.98,5.16 L-26.54,4.87 L-28.1,4.55 L-29.66,4.19 L-31.23,3.78 L-32.79,3.29 L-34.35,2.7 L-35.91,1.9 L-37.47,0Z" fill="#fff"/><g clip-path="url(#lc6)" stroke="#3a3a3a" stroke-width="0.6" fill="none"><path d="M-29.14,-7 V0"/><path d="M-24.98,0 V7"/><path d="M-20.82,-7 V0"/><path d="M-16.65,0 V7"/><path d="M-12.49,-7 V0"/><path d="M-8.33,0 V7"/><path d="M-4.16,-7 V0"/><path d="M0,0 V7"/><path d="M4.16,-7 V0"/><path d="M8.33,0 V7"/><path d="M12.49,-7 V0"/><path d="M16.65,0 V7"/><path d="M20.82,-7 V0"/><path d="M24.98,0 V7"/><path d="M29.14,-7 V0"/><path d="M33.31,0 V7"/></g><path d="M-37.17,0 H37.17" stroke="#7a7a7a" stroke-width="1.2"/><path d="M-37.47,-0 L-35.91,-1.9 L-34.35,-2.7 L-32.79,-3.29 L-31.23,-3.78 L-29.66,-4.19 L-28.1,-4.55 L-26.54,-4.87 L-24.98,-5.16 L-23.42,-5.41 L-21.86,-5.64 L-20.3,-5.84 L-18.74,-6.03 L-17.17,-6.19 L-15.61,-6.34 L-14.05,-6.47 L-12.49,-6.58 L-10.93,-6.68 L-9.37,-6.77 L-7.81,-6.84 L-6.25,-6.9 L-4.68,-6.94 L-3.12,-6.97 L-1.56,-6.99 L0,-7 L1.56,-6.99 L3.12,-6.97 L4.68,-6.94 L6.25,-6.9 L7.81,-6.84 L9.37,-6.77 L10.93,-6.68 L12.49,-6.58 L14.05,-6.47 L15.61,-6.34 L17.17,-6.19 L18.74,-6.03 L20.3,-5.84 L21.86,-5.64 L23.42,-5.41 L24.98,-5.16 L26.54,-4.87 L28.1,-4.55 L29.66,-4.19 L31.23,-3.78 L32.79,-3.29 L34.35,-2.7 L35.91,-1.9 L37.47,-0 L37.47,0 L35.91,1.9 L34.35,2.7 L32.79,3.29 L31.23,3.78 L29.66,4.19 L28.1,4.55 L26.54,4.87 L24.98,5.16 L23.42,5.41 L21.86,5.64 L20.3,5.84 L18.74,6.03 L17.17,6.19 L15.61,6.34 L14.05,6.47 L12.49,6.58 L10.93,6.68 L9.37,6.77 L7.81,6.84 L6.25,6.9 L4.68,6.94 L3.12,6.97 L1.56,6.99 L0,7 L-1.56,6.99 L-3.12,6.97 L-4.68,6.94 L-6.25,6.9 L-7.81,6.84 L-9.37,6.77 L-10.93,6.68 L-12.49,6.58 L-14.05,6.47 L-15.61,6.34 L-17.17,6.19 L-18.74,6.03 L-20.3,5.84 L-21.86,5.64 L-23.42,5.41 L-24.98,5.16 L-26.54,4.87 L-28.1,4.55 L-29.66,4.19 L-31.23,3.78 L-32.79,3.29 L-34.35,2.7 L-35.91,1.9 L-37.47,0Z" fill="none" stroke="#1e1e1e" stroke-width="0.75"/></g>
<defs><pattern id="hat" width="2.2" height="2.2" patternUnits="userSpaceOnUse" patternTransform="rotate(-45)"><rect width="2.2" height="2.2" fill="#f2f2f2"/><rect width="0.85" height="2.2" fill="#a0a0a0"/></pattern></defs>
<path d="M322.29,464.09 L324.34,465.13 L326.41,466.13 L328.51,467.07 L330.63,467.97 L332.77,468.81 L334.93,469.6 L337.1,470.34 L339.3,471.02 L341.51,471.65 L343.73,472.23 L345.97,472.76 L348.22,473.23 L350.48,473.64 L352.75,474 L355.03,474.31 L357.32,474.56 L359.61,474.75 L361.9,474.89 L364.2,474.97 L366.5,475 L368.8,474.97 L371.1,474.89 L373.39,474.75 L375.68,474.56 L377.97,474.31 L380.25,474 L382.52,473.64 L384.78,473.23 L387.03,472.76 L389.27,472.23 L391.49,471.65 L393.7,471.02 L395.9,470.34 L398.07,469.6 L400.23,468.81 L402.37,467.97 L404.49,467.07 L406.59,466.13 L408.66,465.13 L410.71,464.09 L441.1,522.3 L453.6,551.6 L469.9,600.4 L470,606.31 L465,607.38 L460,608.41 L455,609.37 L450,610.28 L445,611.14 L440,611.94 L435,612.69 L430,613.38 L425,614.02 L420,614.61 L415,615.14 L410,615.62 L405,616.05 L400,616.43 L395,616.75 L390,617.02 L385,617.24 L380,617.41 L375,617.52 L370,617.59 L365,617.6 L360,617.56 L355,617.46 L350,617.32 L345,617.12 L340,616.87 L335,616.57 L330,616.21 L325,615.8 L320,615.34 L315,614.83 L310,614.26 L305,613.64 L300,612.97 L295,612.24 L290,611.46 L285,610.63 L280,609.74 L275,608.8 L270,607.8 L265,606.75 L263,600.4 L292.4,523.1Z" fill="#fff" stroke="none"/>
<path d="M291.9,522.3 L322.29,464.09 L324.34,465.13 L326.41,466.13 L328.51,467.07 L330.63,467.97 L332.77,468.81 L334.93,469.6 L337.1,470.34 L339.3,471.02 L341.51,471.65 L343.73,472.23 L345.97,472.76 L348.22,473.23 L350.48,473.64 L352.75,474 L355.03,474.31 L357.32,474.56 L359.61,474.75 L361.9,474.89 L364.2,474.97 L366.5,475 L368.8,474.97 L371.1,474.89 L373.39,474.75 L375.68,474.56 L377.97,474.31 L380.25,474 L382.52,473.64 L384.78,473.23 L387.03,472.76 L389.27,472.23 L391.49,471.65 L393.7,471.02 L395.9,470.34 L398.07,469.6 L400.23,468.81 L402.37,467.97 L404.49,467.07 L406.59,466.13 L408.66,465.13 L410.71,464.09 L441.1,522.3" fill="none" stroke="#3a3a3a" stroke-width="0.7"/>
<path d="M295.8,524.34 L323.73,470.84 L325.74,471.75 L327.77,472.63 L329.82,473.46 L331.88,474.24 L333.96,474.98 L336.06,475.67 L338.17,476.32 L340.3,476.92 L342.44,477.47 L344.59,477.98 L346.75,478.44 L348.92,478.85 L351.1,479.21 L353.28,479.53 L355.48,479.79 L357.68,480.01 L359.88,480.18 L362.08,480.3 L364.29,480.38 L366.5,480.4 L368.71,480.38 L370.92,480.3 L373.12,480.18 L375.32,480.01 L377.52,479.79 L379.72,479.53 L381.9,479.21 L384.08,478.85 L386.25,478.44 L388.41,477.98 L390.56,477.47 L392.7,476.92 L394.83,476.32 L396.94,475.67 L399.04,474.98 L401.12,474.24 L403.18,473.46 L405.23,472.63 L407.26,471.75 L409.27,470.84 L437.2,524.34" fill="none" stroke="#3a3a3a" stroke-width="0.6"/>
<path d="M320.07,477.84 L322.25,478.85 L324.45,479.8 L326.67,480.71 L328.91,481.57 L331.17,482.38 L333.45,483.13 L335.74,483.84 L338.05,484.5 L340.37,485.1 L342.71,485.65 L345.05,486.15 L347.41,486.6 L349.77,487 L352.15,487.34 L354.53,487.64 L356.92,487.88 L359.31,488.06 L361.7,488.19 L364.1,488.27 L366.5,488.3 L368.9,488.27 L371.3,488.19 L373.69,488.06 L376.08,487.88 L378.47,487.64 L380.85,487.34 L383.23,487 L385.59,486.6 L387.95,486.15 L390.29,485.65 L392.63,485.1 L394.95,484.5 L397.26,483.84 L399.55,483.13 L401.83,482.38 L404.09,481.57 L406.33,480.71 L408.55,479.8 L410.75,478.85 L412.93,477.84" fill="none" stroke="#3a3a3a" stroke-width="0.6"/>
<path d="M326,523 V514.7 H432" fill="none" stroke="#3a3a3a" stroke-width="0.5"/>
<defs><pattern id="tile" width="2.6" height="2.6" patternUnits="userSpaceOnUse"><rect width="2.6" height="2.6" fill="#fafafa"/><path d="M0,0.2 H2.6 M0.2,0 V2.6" stroke="#b4b4b4" stroke-width="0.45"/></pattern></defs>
<path d="M303,526 L324,526 L324,552.4 L369.6,552.4 L369.6,618 L326.5,616 L326.5,599.6 L278.6,591.4 Z" fill="url(#tile)"/>
<path d="M371,553 H417 V616 H371 Z" fill="url(#tile)"/>
<g fill="#fff" stroke="#333" stroke-width="0.6">
<rect x="329.5" y="525.6" width="38.5" height="24.4"/>
<rect x="372.3" y="525.6" width="43.1" height="23.9"/>
</g>
<g fill="#fff" stroke="#444" stroke-width="0.5"><rect x="326.5" y="554" width="21.2" height="14.7"/><rect x="347.7" y="554" width="20.3" height="14.7"/><path d="M326.5,554 L347.7,568.7 M347.7,554 L326.5,568.7 M347.7,554 L368,568.7 M368,554 L347.7,568.7" fill="none"/></g>
<path d="M335.4,599.6 A16.3,16.3 0 1 0 351.7,583.3" fill="#fff" stroke="#444" stroke-width="0.6"/><path d="M351.7,599.6 L351.7,583.3" stroke="#555" stroke-width="0.4"/><path d="M351.7,599.6 L344.3,585.08" stroke="#555" stroke-width="0.4"/><path d="M351.7,599.6 L338.51,590.02" stroke="#555" stroke-width="0.4"/><path d="M351.7,599.6 L335.6,597.05" stroke="#555" stroke-width="0.4"/><path d="M351.7,599.6 L336.2,604.64" stroke="#555" stroke-width="0.4"/><path d="M351.7,599.6 L340.17,611.13" stroke="#555" stroke-width="0.4"/><path d="M351.7,599.6 L346.66,615.1" stroke="#555" stroke-width="0.4"/><path d="M351.7,599.6 L354.25,615.7" stroke="#555" stroke-width="0.4"/><path d="M351.7,599.6 L361.28,612.79" stroke="#555" stroke-width="0.4"/><path d="M351.7,599.6 L366.22,607" stroke="#555" stroke-width="0.4"/>
<rect x="-5" y="-3.5" width="10" height="7" rx="1.5" transform="translate(282.6,567) rotate(-62)" fill="#fff" stroke="#444" stroke-width="0.5"/>
<g fill="none" stroke="#555" stroke-width="0.5">
<path d="M304.6,524.5 A19.5,19.5 0 0 0 324.1,544"/>
<path d="M421.1,533.7 A18.7,18.7 0 0 1 439.8,552.4"/>
</g>
<path d="M418,575 L404.5,575 A13.5,13.5 0 0 1 418,561.5 Z M418,585 L404.5,585 A13.5,13.5 0 0 0 418,598.5 Z" fill="#fff" stroke="#777" stroke-width="0.5"/>
<rect x="371.2" y="562.5999999999999" width="4" height="6.4" fill="#fff" stroke="#666" stroke-width="0.4"/>
<path d="M375.4,561.5999999999999 H383 A5.2,4.2 0 0 1 383,570.0 H375.4 Z" fill="#fff" stroke="#555" stroke-width="0.5"/>
<path d="M377,562.8 H382.5 A3.6,3 0 0 1 382.5,568.8 H377 Z" fill="none" stroke="#999" stroke-width="0.4"/>
<ellipse cx="378.3" cy="565.8" rx="1.1" ry="1.6" fill="#222"/>
<text x="391" y="566.8" font-size="2.8" fill="#333">W.C.</text>
<text x="393" y="561.3" font-size="2.4" font-weight="bold" fill="#222" text-anchor="middle">1.15</text>
<rect x="371.2" y="591.4" width="4" height="6.4" fill="#fff" stroke="#666" stroke-width="0.4"/>
<path d="M375.4,590.4 H383 A5.2,4.2 0 0 1 383,598.8000000000001 H375.4 Z" fill="#fff" stroke="#555" stroke-width="0.5"/>
<path d="M377,591.6 H382.5 A3.6,3 0 0 1 382.5,597.6 H377 Z" fill="none" stroke="#999" stroke-width="0.4"/>
<ellipse cx="378.3" cy="594.6" rx="1.1" ry="1.6" fill="#222"/>
<text x="391" y="595.6" font-size="2.8" fill="#333">W.C.</text>
<text x="393" y="590.1" font-size="2.4" font-weight="bold" fill="#222" text-anchor="middle">1.15</text>
<path d="M375.4,553 V616 M380.4,553 V616" stroke="#888" stroke-width="0.35" fill="none"/>
<g fill="none" stroke="#555" stroke-width="0.5">
</g>
<path d="M265,610.74 L270,611.78 L275,612.77 L280,613.71 L285,614.59 L290,615.41 L295,616.19 L300,616.91 L305,617.58 L310,618.19 L315,618.75 L320,619.26 L325,619.72 L330,620.12 L335,620.47 L340,620.77 L345,621.02 L350,621.22 L355,621.36 L360,621.46 L365,621.5 L370,621.49 L375,621.43 L380,621.31 L385,621.15 L390,620.93 L395,620.66 L400,620.34 L405,619.97 L410,619.54 L415,619.06 L420,618.53 L425,617.95 L430,617.32 L435,616.63 L440,615.89 L445,615.09 L450,614.24 L455,613.34 L460,612.38 L465,611.37" fill="none" stroke="#8a8a8a" stroke-width="1.3"/>
<path d="M265,612.37 L270,613.41 L275,614.4 L280,615.33 L285,616.21 L290,617.04 L295,617.81 L300,618.52 L305,619.19 L310,619.8 L315,620.36 L320,620.87 L325,621.32 L330,621.73 L335,622.08 L340,622.38 L345,622.62 L350,622.82 L355,622.96 L360,623.06 L365,623.1 L370,623.09 L375,623.03 L380,622.91 L385,622.75 L390,622.53 L395,622.26 L400,621.94 L405,621.57 L410,621.15 L415,620.67 L420,620.14 L425,619.56 L430,618.93 L435,618.24 L440,617.5 L445,616.71 L450,615.87 L455,614.97 L460,614.01 L465,613" fill="none" stroke="#b0b0b0" stroke-width="0.6"/>
<path d="M426,553 V612 M418,599.6 H466" stroke="#555" stroke-width="0.4" fill="none"/>
<text x="442" y="598.8" font-size="2.4" font-weight="bold" fill="#222" text-anchor="middle">1.25</text>
<text x="0" y="0" font-size="2.4" font-weight="bold" fill="#222" text-anchor="middle" transform="translate(425.2,583) rotate(-90)">1.35</text>
<text x="348.7" y="528" font-size="2.4" font-weight="bold" fill="#222" text-anchor="middle">1.80</text>
<text x="346.7" y="539" font-size="2.6" fill="#333" text-anchor="middle">Shelf</text>
<text x="0" y="0" font-size="2.4" font-weight="bold" fill="#222" text-anchor="middle" transform="translate(358.2,538) rotate(-90)">0.80</text>
<text x="393.8" y="528" font-size="2.4" font-weight="bold" fill="#222" text-anchor="middle">1.70</text>
<text x="391.8" y="539" font-size="2.6" fill="#333" text-anchor="middle">Shelf</text>
<text x="0" y="0" font-size="2.4" font-weight="bold" fill="#222" text-anchor="middle" transform="translate(403.3,538) rotate(-90)">0.80</text>
<text x="318.5" y="580.5" font-size="2.6" fill="#333" text-anchor="middle">Drugs Preparation</text>
<text x="298" y="570" font-size="2.4" font-weight="bold" fill="#222" text-anchor="middle">0.85</text>
<text x="347" y="570" font-size="2.4" font-weight="bold" fill="#222" text-anchor="middle">1.45</text>
<path d="M283,571 H369" stroke="#666" stroke-width="0.35" fill="none"/>
<path d="M263,600.4 L292.4,523.1 L303.8,523.1 M325.7,523.1 L440.6,523.1 M326.5,523.1 V552.4 H417.9 M369.6,523.1 V616.6 M417.9,523.1 V561 M417.9,575 V585 M417.9,598.5 V613.8 M369.6,580.9 H417.9 M440.6,551.6 H453.6 L469.9,600.4 M263,606.31 L268.17,607.42 L273.34,608.47 L278.51,609.47 L283.68,610.4 L288.85,611.28 L294.02,612.1 L299.19,612.86 L304.36,613.56 L309.53,614.21 L314.7,614.8 L319.87,615.33 L325.04,615.81 L330.21,616.23 L335.38,616.59 L340.55,616.9 L345.72,617.15 L350.89,617.35 L356.06,617.49 L361.23,617.57 L366.4,617.6 L371.57,617.57 L376.74,617.49 L381.91,617.35 L387.08,617.16 L392.25,616.91 L397.42,616.6 L402.59,616.24 L407.76,615.82 L412.93,615.35 L418.1,614.82 L423.27,614.23 L428.44,613.59 L433.61,612.89 L438.78,612.13 L443.95,611.31 L449.12,610.44 L454.29,609.5 L459.46,608.51 L464.63,607.46 L469.8,606.35" fill="none" stroke="#5a3a10" stroke-width="3.6" stroke-linejoin="round"/>
<path d="M263,600.4 L292.4,523.1 L303.8,523.1 M325.7,523.1 L440.6,523.1 M326.5,523.1 V552.4 H417.9 M369.6,523.1 V616.6 M417.9,523.1 V561 M417.9,575 V585 M417.9,598.5 V613.8 M369.6,580.9 H417.9 M440.6,551.6 H453.6 L469.9,600.4 M263,606.31 L268.17,607.42 L273.34,608.47 L278.51,609.47 L283.68,610.4 L288.85,611.28 L294.02,612.1 L299.19,612.86 L304.36,613.56 L309.53,614.21 L314.7,614.8 L319.87,615.33 L325.04,615.81 L330.21,616.23 L335.38,616.59 L340.55,616.9 L345.72,617.15 L350.89,617.35 L356.06,617.49 L361.23,617.57 L366.4,617.6 L371.57,617.57 L376.74,617.49 L381.91,617.35 L387.08,617.16 L392.25,616.91 L397.42,616.6 L402.59,616.24 L407.76,615.82 L412.93,615.35 L418.1,614.82 L423.27,614.23 L428.44,613.59 L433.61,612.89 L438.78,612.13 L443.95,611.31 L449.12,610.44 L454.29,609.5 L459.46,608.51 L464.63,607.46 L469.8,606.35" fill="none" stroke="#e9861f" stroke-width="2.5" stroke-linejoin="round"/>
<g fill="none">
<path d="M533.5,572.5 L557.5,548.5" stroke="#dcdcdc" stroke-width="2.6"/>
<path d="M535,573.5 L559,549.5" stroke="#ffffff" stroke-width="1.6"/>
<rect x="-2.2" y="-3.6" width="4.4" height="7.2" transform="translate(531.4,572.2) rotate(45)" fill="#fff" stroke="#999" stroke-width="0.4"/>
<rect x="-2.2" y="-3.6" width="4.4" height="7.2" transform="translate(558.6,545.2) rotate(45)" fill="#fff" stroke="#999" stroke-width="0.4"/>
<path d="M516.4,558.9 L529.7,571.3 M545.5,529.8 L557.9,542.7" stroke="#5a86b8" stroke-width="0.8"/>
<path d="M516.4,558.9 A18.6,18.6 0 0 1 544,558 M545.5,529.8 A18.6,18.6 0 0 0 544,558" stroke="#555" stroke-width="0.6"/>
<path d="M621,361 V399" stroke="#dcdcdc" stroke-width="2.2"/>
<path d="M598.7,359.3 H621 M598.7,400.7 H621" stroke="#7fb2e5" stroke-width="0.8" stroke-dasharray="1.5 0.8"/>
<path d="M598.7,359.3 A21.7,21.7 0 0 0 620.4,380.5 M598.7,400.7 A21.7,21.7 0 0 1 620.4,380.5" stroke="#666" stroke-width="0.5"/>
<rect x="618.3" y="356.4" width="3.8" height="7.6" fill="#fff" stroke="#999" stroke-width="0.4"/><rect x="618.3" y="394.5" width="3.8" height="7.6" fill="#fff" stroke="#999" stroke-width="0.4"/>
</g>
<g stroke="#555" stroke-width="0.55" fill="none">
<path d="M136,317.5 H621"/>
<path d="M136,484.5 H596.6"/>
<path d="M482.5,152 V606" stroke="#8a8a8a" stroke-width="0.5"/>
<path d="M136.5,311 V320 M136.5,478 V487"/>
</g>
<path d="M619.6,296 V317.5 M596.6,478 V487" stroke="#444" stroke-width="0.5" fill="none"/>
<rect x="323.6" y="524.5" width="1.2" height="17" fill="#bbb"/>
<rect x="420.6" y="533.7" width="1.2" height="18.5" fill="#bbb"/>
<path d="M149.6,287 V318 M136.4,472 V485 M149.6,472 V485 M256.4,287 V318 M269.6,287 V318 M256.4,472 V485 M269.6,472 V485 M462.9,287 V318 M476.1,287 V318 M462.9,472 V485 M476.1,472 V485 M583.4,472 V485 M596.6,472 V485 M469.5,280.3 H482.5 M469.5,293.7 H482.5 M469.5,465.3 H482.5 M469.5,478.7 H482.5 M469.5,151.9 H482.5 M469.5,165.1 H482.5" fill="none" stroke="#333" stroke-width="0.55"/>
<text x="143" y="316.8" font-size="2.7" font-weight="bold" fill="#000" text-anchor="middle">0.50</text>
<text x="143" y="483.6" font-size="2.7" font-weight="bold" fill="#000" text-anchor="middle">0.50</text>
<text x="263" y="316.8" font-size="2.7" font-weight="bold" fill="#000" text-anchor="middle">0.50</text>
<text x="263" y="483.6" font-size="2.7" font-weight="bold" fill="#000" text-anchor="middle">0.50</text>
<text x="469.5" y="316.8" font-size="2.7" font-weight="bold" fill="#000" text-anchor="middle">0.50</text>
<text x="469.5" y="483.6" font-size="2.7" font-weight="bold" fill="#000" text-anchor="middle">0.50</text>
<text x="590" y="483.6" font-size="2.7" font-weight="bold" fill="#000" text-anchor="middle">0.50</text>
<text x="203.3" y="316.8" font-size="2.7" font-weight="bold" fill="#000" text-anchor="middle">4.20</text>
<text x="366.5" y="316.8" font-size="2.7" font-weight="bold" fill="#000" text-anchor="middle">7.00</text>
<text x="548.4" y="316.8" font-size="2.7" font-weight="bold" fill="#000" text-anchor="middle">5.00</text>
<text x="203.3" y="483.6" font-size="2.7" font-weight="bold" fill="#000" text-anchor="middle">4.20</text>
<text x="366.5" y="483.6" font-size="2.7" font-weight="bold" fill="#000" text-anchor="middle">7.00</text>
<text x="529.9" y="483.6" font-size="2.7" font-weight="bold" fill="#000" text-anchor="middle">4.20</text>
<text x="481.3" y="158.5" font-size="2.7" font-weight="bold" fill="#000" text-anchor="middle" transform="rotate(-90 481.3 158.5)">0.50</text>
<text x="481.3" y="287" font-size="2.7" font-weight="bold" fill="#000" text-anchor="middle" transform="rotate(-90 481.3 287)">0.50</text>
<text x="481.3" y="472" font-size="2.7" font-weight="bold" fill="#000" text-anchor="middle" transform="rotate(-90 481.3 472)">0.50</text>
<text x="481.3" y="222.5" font-size="2.7" font-weight="bold" fill="#000" text-anchor="middle" transform="rotate(-90 481.3 222.5)">4.60</text>
<text x="481.3" y="379" font-size="2.7" font-weight="bold" fill="#000" text-anchor="middle" transform="rotate(-90 481.3 379)">4.60</text>
<text x="481.3" y="542.7" font-size="2.7" font-weight="bold" fill="#000" text-anchor="middle" transform="rotate(-90 481.3 542.7)">4.60</text>
<circle cx="263" cy="158.5" r="6.15" fill="url(#hat)" stroke="#111" stroke-width="1.9"/>
<circle cx="469.5" cy="158.5" r="6.15" fill="url(#hat)" stroke="#111" stroke-width="1.9"/>
<circle cx="143" cy="287" r="6.15" fill="url(#hat)" stroke="#111" stroke-width="1.9"/>
<circle cx="263" cy="287" r="6.15" fill="url(#hat)" stroke="#111" stroke-width="1.9"/>
<circle cx="469.5" cy="287" r="6.15" fill="url(#hat)" stroke="#111" stroke-width="1.9"/>
<circle cx="590" cy="287" r="6.15" fill="url(#hat)" stroke="#111" stroke-width="1.9"/>
<circle cx="143" cy="472" r="6.15" fill="url(#hat)" stroke="#111" stroke-width="1.9"/>
<circle cx="263" cy="472" r="6.15" fill="url(#hat)" stroke="#111" stroke-width="1.9"/>
<circle cx="469.5" cy="472" r="6.15" fill="url(#hat)" stroke="#111" stroke-width="1.9"/>
<circle cx="590" cy="472" r="6.15" fill="url(#hat)" stroke="#111" stroke-width="1.9"/>
<circle cx="263" cy="600.4" r="6.15" fill="url(#hat)" stroke="#111" stroke-width="1.9"/>
<circle cx="469.9" cy="600.4" r="6.15" fill="url(#hat)" stroke="#111" stroke-width="1.9"/>
<text transform="translate(310,207.6) scale(1,1.13)" x="0" y="0" font-size="4.4" fill="#dc4f1c" text-anchor="middle" stroke="#dc4f1c" stroke-width="0.07">Smokers</text>
<text transform="translate(455.7,215.2) scale(1,1.13)" x="0" y="0" font-size="4.4" fill="#dc4f1c" text-anchor="middle" stroke="#dc4f1c" stroke-width="0.07">Men Cosmetics</text>
<text transform="translate(366.8,249.2) scale(1,1.13)" x="0" y="0" font-size="4.4" fill="#dc4f1c" text-anchor="middle" stroke="#dc4f1c" stroke-width="0.07">Diet</text>
<text transform="translate(497.3,282.2) scale(1,1.13)" x="0" y="0" font-size="4.4" fill="#dc4f1c" text-anchor="middle" stroke="#dc4f1c" stroke-width="0.07">Optican</text>
<text transform="translate(215.6,305.1) scale(1,1.13)" x="0" y="0" font-size="4.4" fill="#dc4f1c" text-anchor="middle" stroke="#dc4f1c" stroke-width="0.07">Mother and Baby</text>
<text transform="translate(285.9,307.1) scale(1,1.13)" x="0" y="0" font-size="4.4" fill="#dc4f1c" text-anchor="middle" stroke="#dc4f1c" stroke-width="0.07">Electronics</text>
<text transform="translate(528.4,335.2) scale(1,1.13)" x="0" y="0" font-size="4.4" fill="#dc4f1c" text-anchor="middle" stroke="#dc4f1c" stroke-width="0.07">Dental Products</text>
<text transform="translate(171.6,375.5) scale(1,1.13)" x="0" y="0" font-size="4.4" fill="#dc4f1c" text-anchor="middle" stroke="#dc4f1c" stroke-width="0.07">Vitamins</text>
<text transform="translate(368.2,411.8) scale(1,1.13)" x="0" y="0" font-size="4.4" fill="#dc4f1c" text-anchor="middle" stroke="#dc4f1c" stroke-width="0.07">Makeup</text>
<text transform="translate(368.3,416.2) scale(1,1.13)" x="0" y="0" font-size="4.4" fill="#dc4f1c" text-anchor="middle" stroke="#dc4f1c" stroke-width="0.07">Cosmetics</text>
<text transform="translate(501.6,411.9) scale(1,1.13)" x="0" y="0" font-size="4.4" fill="#dc4f1c" text-anchor="middle" stroke="#dc4f1c" stroke-width="0.07">Books - Health and Diet</text>
<text transform="translate(200.6,438.2) scale(1,1.13)" x="0" y="0" font-size="4.4" fill="#dc4f1c" text-anchor="middle" stroke="#dc4f1c" stroke-width="0.07">Orthopedics</text>
<text transform="translate(286.2,453.2) scale(1,1.13)" x="0" y="0" font-size="4.4" fill="#dc4f1c" text-anchor="middle" stroke="#dc4f1c" stroke-width="0.07">Winter goods</text>
<text transform="translate(471,448.6) scale(1,1.13)" x="0" y="0" font-size="4.4" fill="#dc4f1c" text-anchor="middle" stroke="#dc4f1c" stroke-width="0.07">Summer goods</text>
<text transform="translate(571.5,451.7) scale(1,1.13)" x="0" y="0" font-size="4.4" fill="#dc4f1c" text-anchor="middle" stroke="#dc4f1c" stroke-width="0.07">Check out</text>
<text transform="translate(520.7,500.2) scale(1,1.13)" x="0" y="0" font-size="4.4" fill="#dc4f1c" text-anchor="middle" stroke="#dc4f1c" stroke-width="0.07">Supermarket</text>
<text transform="translate(521.8,509.2) scale(1,1.13)" x="0" y="0" font-size="4.4" fill="#dc4f1c" text-anchor="middle" stroke="#dc4f1c" stroke-width="0.07">Herbs and food</text>
<text transform="translate(367.8,508.4) scale(1,1.13)" x="0" y="0" font-size="4.4" fill="#dc4f1c" text-anchor="middle" stroke="#dc4f1c" stroke-width="0.07">Drugs Dispensary</text>
<text transform="translate(367.1,630.6) scale(1,1.13)" x="0" y="0" font-size="4.4" fill="#dc4f1c" text-anchor="middle" stroke="#dc4f1c" stroke-width="0.07">Display</text>
<g fill="none" stroke="#e0589c" stroke-width="1.35" stroke-linejoin="miter">
<path d="M355.5,36.3 H376 L366.2,46.5 Z"/>
<path d="M12.1,369.2 V390.2 L22.7,379.6 Z"/>
<path d="M720.8,369.1 V390 L710.5,379.6 Z"/>
<path d="M355.3,688.4 H376 L365.6,678 Z"/>
</g>
<text x="366.2" y="28.8" font-size="9.2" fill="#e0589c" text-anchor="middle" >D</text>
<text x="3.7" y="381.8" font-size="8.8" fill="#e0589c" text-anchor="middle" >A</text>
<text x="731.9" y="382" font-size="9.4" fill="#e0589c" text-anchor="middle" >C</text>
<text x="366.4" y="700.1" font-size="8.3" fill="#e0589c" text-anchor="middle" >B</text>
<path d="M43.4,382.8 H56 L49.5,377.5 Z M676.9,382.8 H689.4 L683.1,377.5 Z" fill="#000"/>
<path d="M49.5,383 V385.3 H78.2 M654.9,385.3 H683.1 V383" fill="none" stroke="#9a9a9a" stroke-width="0.6"/>
<text x="50.9" y="372.2" font-size="8.6" fill="#000" text-anchor="middle" font-weight="bold">E</text>
<text x="681.5" y="372.2" font-size="8.6" fill="#000" text-anchor="middle" font-weight="bold">E</text>
<path d="M484.2,63.1 L489.1,57.4 V69.3 Z M484.1,696.2 L489.6,690.4 V702.1 Z" fill="#000"/>
<path d="M489.1,63.1 H491.6 V91.8 M491.5,668.5 V695.8" fill="none" stroke="#aaa" stroke-width="0.6"/>
<text x="0" y="0" font-size="8.4" font-weight="bold" text-anchor="middle" transform="translate(478.2,64.2) rotate(-90)">F</text>
<text x="0" y="0" font-size="8.4" font-weight="bold" text-anchor="middle" transform="translate(478.2,695.8) rotate(-90)">F</text>
</svg>
</body></html>
